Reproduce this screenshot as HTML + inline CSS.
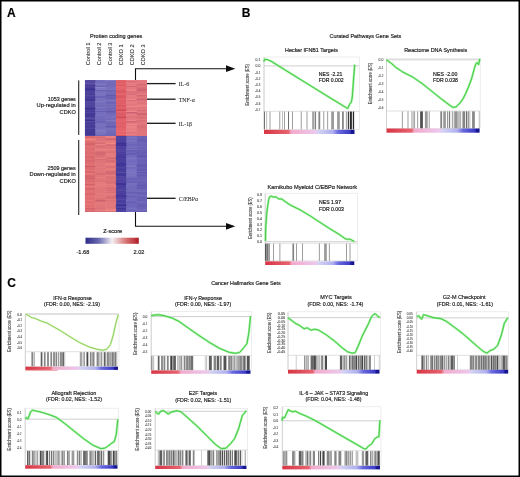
<!DOCTYPE html>
<html><head><meta charset="utf-8"><style>
html,body{margin:0;padding:0;background:#fff;overflow:hidden;}
svg{display:block;}
text{font-family:"Liberation Sans", sans-serif;stroke:#222;stroke-width:0.18px;} .t{stroke:#555;stroke-width:0.1px;}
</style></head><body>
<svg width="520" height="477" viewBox="0 0 520 477">
<defs><filter id="soft" filterUnits="userSpaceOnUse" x="0" y="0" width="520" height="477"><feGaussianBlur stdDeviation="0.3"/></filter></defs>
<g filter="url(#soft)">
<rect x="0" y="0" width="520" height="477" fill="#fff"/>
<defs><linearGradient id="zg" x1="0" x2="1" y1="0" y2="0"><stop offset="0" stop-color="#2c2a88"/><stop offset="0.25" stop-color="#6a6ab0"/><stop offset="0.5" stop-color="#f4f0f4"/><stop offset="0.75" stop-color="#d87878"/><stop offset="1" stop-color="#b01c24"/></linearGradient><linearGradient id="cb" x1="0" x2="1" y1="0" y2="0"><stop offset="0" stop-color="#d83444"/><stop offset="0.27" stop-color="#e6646f"/><stop offset="0.30" stop-color="#f2aacb"/><stop offset="0.57" stop-color="#ecc8ec"/><stop offset="0.60" stop-color="#d2d2f4"/><stop offset="0.76" stop-color="#b0b0ee"/><stop offset="0.82" stop-color="#6a6ade"/><stop offset="0.95" stop-color="#3a3ac6"/><stop offset="0.965" stop-color="#181890"/><stop offset="1" stop-color="#181890"/></linearGradient></defs>
<text x="7.00" y="17.00" font-size="12" text-anchor="start" fill="#000" font-weight="bold">A</text>
<text x="241.80" y="16.70" font-size="12" text-anchor="start" fill="#000" font-weight="bold">B</text>
<text x="7.20" y="287.00" font-size="12" text-anchor="start" fill="#000" font-weight="bold">C</text>
<defs><filter id="hb" x="-5%" y="-5%" width="110%" height="110%"><feGaussianBlur stdDeviation="0.35"/></filter><clipPath id="hc"><rect x="84.8" y="80" width="62.2" height="132"/></clipPath></defs>
<g clip-path="url(#hc)"><g filter="url(#hb)">
<rect x="84.80" y="80.00" width="10.67" height="56.00" fill="rgb(78,66,156)"/>
<rect x="95.17" y="80.00" width="10.67" height="56.00" fill="rgb(118,110,188)"/>
<rect x="105.53" y="80.00" width="10.67" height="56.00" fill="rgb(114,106,184)"/>
<rect x="115.90" y="80.00" width="10.67" height="56.00" fill="rgb(224,96,104)"/>
<rect x="126.27" y="80.00" width="10.67" height="56.00" fill="rgb(226,120,128)"/>
<rect x="136.63" y="80.00" width="10.67" height="56.00" fill="rgb(224,116,124)"/>
<rect x="84.80" y="80.00" width="10.67" height="1.20" fill="rgb(85,73,160)"/>
<rect x="105.53" y="80.00" width="10.67" height="1.20" fill="rgb(128,120,192)"/>
<rect x="115.90" y="80.00" width="10.67" height="1.20" fill="rgb(228,100,106)"/>
<rect x="126.27" y="80.00" width="10.67" height="1.20" fill="rgb(234,128,133)"/>
<rect x="136.63" y="80.00" width="10.67" height="1.20" fill="rgb(229,121,127)"/>
<rect x="84.80" y="81.20" width="10.67" height="1.00" fill="rgb(86,74,160)"/>
<rect x="105.53" y="81.20" width="10.67" height="1.00" fill="rgb(117,109,185)"/>
<rect x="126.27" y="81.20" width="10.67" height="1.00" fill="rgb(212,106,120)"/>
<rect x="136.63" y="81.20" width="10.67" height="1.00" fill="rgb(230,122,128)"/>
<rect x="84.80" y="82.20" width="10.67" height="0.80" fill="rgb(88,76,162)"/>
<rect x="95.17" y="82.20" width="10.67" height="0.80" fill="rgb(114,106,185)"/>
<rect x="84.80" y="83.00" width="10.67" height="1.00" fill="rgb(93,81,165)"/>
<rect x="95.17" y="83.00" width="10.67" height="1.00" fill="rgb(122,114,190)"/>
<rect x="115.90" y="83.00" width="10.67" height="1.00" fill="rgb(228,100,106)"/>
<rect x="126.27" y="83.00" width="10.67" height="1.00" fill="rgb(231,125,131)"/>
<rect x="136.63" y="83.00" width="10.67" height="1.00" fill="rgb(228,120,126)"/>
<rect x="84.80" y="84.00" width="10.67" height="1.00" fill="rgb(86,74,160)"/>
<rect x="95.17" y="84.00" width="10.67" height="1.00" fill="rgb(124,116,191)"/>
<rect x="115.90" y="84.00" width="10.67" height="1.00" fill="rgb(227,99,106)"/>
<rect x="136.63" y="84.00" width="10.67" height="1.00" fill="rgb(213,105,117)"/>
<rect x="84.80" y="85.00" width="10.67" height="1.00" fill="rgb(68,56,150)"/>
<rect x="115.90" y="85.00" width="10.67" height="1.00" fill="rgb(215,87,98)"/>
<rect x="126.27" y="85.00" width="10.67" height="1.00" fill="rgb(232,126,132)"/>
<rect x="136.63" y="85.00" width="10.67" height="1.00" fill="rgb(220,112,121)"/>
<rect x="84.80" y="86.00" width="10.67" height="1.00" fill="rgb(81,69,158)"/>
<rect x="95.17" y="86.00" width="10.67" height="1.00" fill="rgb(106,98,180)"/>
<rect x="115.90" y="86.00" width="10.67" height="1.00" fill="rgb(234,106,110)"/>
<rect x="126.27" y="86.00" width="10.67" height="1.00" fill="rgb(209,103,118)"/>
<rect x="84.80" y="87.00" width="10.67" height="1.50" fill="rgb(72,60,152)"/>
<rect x="95.17" y="87.00" width="10.67" height="1.50" fill="rgb(139,131,201)"/>
<rect x="105.53" y="87.00" width="10.67" height="1.50" fill="rgb(120,112,187)"/>
<rect x="115.90" y="87.00" width="10.67" height="1.50" fill="rgb(229,101,107)"/>
<rect x="136.63" y="87.00" width="10.67" height="1.50" fill="rgb(219,111,121)"/>
<rect x="84.80" y="88.50" width="10.67" height="1.50" fill="rgb(59,47,145)"/>
<rect x="95.17" y="88.50" width="10.67" height="1.50" fill="rgb(127,119,193)"/>
<rect x="105.53" y="88.50" width="10.67" height="1.50" fill="rgb(123,115,189)"/>
<rect x="115.90" y="88.50" width="10.67" height="1.50" fill="rgb(228,100,106)"/>
<rect x="126.27" y="88.50" width="10.67" height="1.50" fill="rgb(229,123,130)"/>
<rect x="136.63" y="88.50" width="10.67" height="1.50" fill="rgb(209,101,115)"/>
<rect x="84.80" y="90.00" width="10.67" height="1.20" fill="rgb(74,62,153)"/>
<rect x="95.17" y="90.00" width="10.67" height="1.20" fill="rgb(107,99,181)"/>
<rect x="105.53" y="90.00" width="10.67" height="1.20" fill="rgb(106,98,179)"/>
<rect x="115.90" y="90.00" width="10.67" height="1.20" fill="rgb(219,91,101)"/>
<rect x="126.27" y="90.00" width="10.67" height="1.20" fill="rgb(236,130,134)"/>
<rect x="136.63" y="90.00" width="10.67" height="1.20" fill="rgb(207,99,114)"/>
<rect x="115.90" y="91.20" width="10.67" height="1.50" fill="rgb(217,89,99)"/>
<rect x="126.27" y="91.20" width="10.67" height="1.50" fill="rgb(215,109,121)"/>
<rect x="136.63" y="91.20" width="10.67" height="1.50" fill="rgb(218,110,120)"/>
<rect x="95.17" y="92.70" width="10.67" height="1.50" fill="rgb(125,117,192)"/>
<rect x="126.27" y="92.70" width="10.67" height="1.50" fill="rgb(221,115,125)"/>
<rect x="84.80" y="94.20" width="10.67" height="0.80" fill="rgb(72,60,152)"/>
<rect x="105.53" y="94.20" width="10.67" height="0.80" fill="rgb(110,102,182)"/>
<rect x="115.90" y="94.20" width="10.67" height="0.80" fill="rgb(236,108,111)"/>
<rect x="126.27" y="94.20" width="10.67" height="0.80" fill="rgb(211,105,119)"/>
<rect x="136.63" y="94.20" width="10.67" height="0.80" fill="rgb(234,126,130)"/>
<rect x="84.80" y="95.00" width="10.67" height="1.50" fill="rgb(85,73,160)"/>
<rect x="95.17" y="95.00" width="10.67" height="1.50" fill="rgb(122,114,190)"/>
<rect x="105.53" y="95.00" width="10.67" height="1.50" fill="rgb(98,90,174)"/>
<rect x="115.90" y="95.00" width="10.67" height="1.50" fill="rgb(218,90,100)"/>
<rect x="126.27" y="95.00" width="10.67" height="1.50" fill="rgb(232,126,132)"/>
<rect x="136.63" y="95.00" width="10.67" height="1.50" fill="rgb(209,101,115)"/>
<rect x="84.80" y="96.50" width="10.67" height="1.20" fill="rgb(71,59,152)"/>
<rect x="95.17" y="96.50" width="10.67" height="1.20" fill="rgb(95,87,174)"/>
<rect x="105.53" y="96.50" width="10.67" height="1.20" fill="rgb(110,102,182)"/>
<rect x="115.90" y="96.50" width="10.67" height="1.20" fill="rgb(216,88,99)"/>
<rect x="136.63" y="96.50" width="10.67" height="1.20" fill="rgb(227,119,125)"/>
<rect x="95.17" y="97.70" width="10.67" height="1.00" fill="rgb(123,115,191)"/>
<rect x="105.53" y="97.70" width="10.67" height="1.00" fill="rgb(103,95,177)"/>
<rect x="84.80" y="98.70" width="10.67" height="1.50" fill="rgb(67,55,149)"/>
<rect x="115.90" y="98.70" width="10.67" height="1.50" fill="rgb(227,99,106)"/>
<rect x="126.27" y="98.70" width="10.67" height="1.50" fill="rgb(238,132,135)"/>
<rect x="136.63" y="98.70" width="10.67" height="1.50" fill="rgb(208,100,114)"/>
<rect x="84.80" y="100.20" width="10.67" height="0.80" fill="rgb(62,50,146)"/>
<rect x="95.17" y="100.20" width="10.67" height="0.80" fill="rgb(122,114,190)"/>
<rect x="105.53" y="100.20" width="10.67" height="0.80" fill="rgb(125,117,190)"/>
<rect x="115.90" y="100.20" width="10.67" height="0.80" fill="rgb(220,92,101)"/>
<rect x="126.27" y="100.20" width="10.67" height="0.80" fill="rgb(218,112,123)"/>
<rect x="84.80" y="101.00" width="10.67" height="1.50" fill="rgb(87,75,161)"/>
<rect x="95.17" y="101.00" width="10.67" height="1.50" fill="rgb(124,116,192)"/>
<rect x="136.63" y="101.00" width="10.67" height="1.50" fill="rgb(228,120,126)"/>
<rect x="105.53" y="102.50" width="10.67" height="1.20" fill="rgb(104,96,178)"/>
<rect x="115.90" y="102.50" width="10.67" height="1.20" fill="rgb(219,91,101)"/>
<rect x="126.27" y="102.50" width="10.67" height="1.20" fill="rgb(236,130,134)"/>
<rect x="136.63" y="102.50" width="10.67" height="1.20" fill="rgb(220,112,121)"/>
<rect x="84.80" y="103.70" width="10.67" height="0.80" fill="rgb(85,73,160)"/>
<rect x="95.17" y="103.70" width="10.67" height="0.80" fill="rgb(110,102,183)"/>
<rect x="105.53" y="103.70" width="10.67" height="0.80" fill="rgb(117,109,186)"/>
<rect x="115.90" y="103.70" width="10.67" height="0.80" fill="rgb(228,100,106)"/>
<rect x="126.27" y="103.70" width="10.67" height="0.80" fill="rgb(221,115,125)"/>
<rect x="136.63" y="103.70" width="10.67" height="0.80" fill="rgb(230,122,127)"/>
<rect x="84.80" y="104.50" width="10.67" height="0.80" fill="rgb(84,72,160)"/>
<rect x="95.17" y="104.50" width="10.67" height="0.80" fill="rgb(124,116,191)"/>
<rect x="105.53" y="104.50" width="10.67" height="0.80" fill="rgb(123,115,189)"/>
<rect x="136.63" y="104.50" width="10.67" height="0.80" fill="rgb(228,120,126)"/>
<rect x="95.17" y="105.30" width="10.67" height="1.20" fill="rgb(108,100,182)"/>
<rect x="105.53" y="105.30" width="10.67" height="1.20" fill="rgb(110,102,181)"/>
<rect x="115.90" y="105.30" width="10.67" height="1.20" fill="rgb(214,86,98)"/>
<rect x="126.27" y="105.30" width="10.67" height="1.20" fill="rgb(231,125,131)"/>
<rect x="136.63" y="105.30" width="10.67" height="1.20" fill="rgb(242,134,135)"/>
<rect x="84.80" y="106.50" width="10.67" height="1.20" fill="rgb(84,72,159)"/>
<rect x="95.17" y="106.50" width="10.67" height="1.20" fill="rgb(125,117,192)"/>
<rect x="105.53" y="106.50" width="10.67" height="1.20" fill="rgb(123,115,189)"/>
<rect x="126.27" y="106.50" width="10.67" height="1.20" fill="rgb(241,135,137)"/>
<rect x="84.80" y="107.70" width="10.67" height="1.20" fill="rgb(60,48,145)"/>
<rect x="105.53" y="107.70" width="10.67" height="1.20" fill="rgb(110,102,181)"/>
<rect x="115.90" y="107.70" width="10.67" height="1.20" fill="rgb(228,100,106)"/>
<rect x="126.27" y="107.70" width="10.67" height="1.20" fill="rgb(216,110,122)"/>
<rect x="84.80" y="108.90" width="10.67" height="1.00" fill="rgb(67,55,149)"/>
<rect x="95.17" y="108.90" width="10.67" height="1.00" fill="rgb(108,100,182)"/>
<rect x="115.90" y="108.90" width="10.67" height="1.00" fill="rgb(218,90,100)"/>
<rect x="136.63" y="108.90" width="10.67" height="1.00" fill="rgb(232,124,128)"/>
<rect x="95.17" y="109.90" width="10.67" height="1.00" fill="rgb(126,118,193)"/>
<rect x="115.90" y="109.90" width="10.67" height="1.00" fill="rgb(199,71,89)"/>
<rect x="136.63" y="109.90" width="10.67" height="1.00" fill="rgb(215,107,118)"/>
<rect x="84.80" y="110.90" width="10.67" height="1.00" fill="rgb(70,58,151)"/>
<rect x="95.17" y="110.90" width="10.67" height="1.00" fill="rgb(99,91,176)"/>
<rect x="105.53" y="110.90" width="10.67" height="1.00" fill="rgb(96,88,173)"/>
<rect x="115.90" y="110.90" width="10.67" height="1.00" fill="rgb(230,102,107)"/>
<rect x="126.27" y="110.90" width="10.67" height="1.00" fill="rgb(245,139,139)"/>
<rect x="84.80" y="111.90" width="10.67" height="1.20" fill="rgb(81,69,157)"/>
<rect x="105.53" y="111.90" width="10.67" height="1.20" fill="rgb(106,98,179)"/>
<rect x="126.27" y="111.90" width="10.67" height="1.20" fill="rgb(202,96,114)"/>
<rect x="84.80" y="113.10" width="10.67" height="0.80" fill="rgb(66,54,149)"/>
<rect x="115.90" y="113.10" width="10.67" height="0.80" fill="rgb(220,92,102)"/>
<rect x="126.27" y="113.10" width="10.67" height="0.80" fill="rgb(216,110,122)"/>
<rect x="136.63" y="113.10" width="10.67" height="0.80" fill="rgb(209,101,115)"/>
<rect x="84.80" y="113.90" width="10.67" height="1.00" fill="rgb(73,61,153)"/>
<rect x="115.90" y="113.90" width="10.67" height="1.00" fill="rgb(217,89,99)"/>
<rect x="126.27" y="113.90" width="10.67" height="1.00" fill="rgb(232,126,132)"/>
<rect x="136.63" y="113.90" width="10.67" height="1.00" fill="rgb(203,95,111)"/>
<rect x="84.80" y="114.90" width="10.67" height="1.50" fill="rgb(65,53,148)"/>
<rect x="95.17" y="114.90" width="10.67" height="1.50" fill="rgb(121,113,189)"/>
<rect x="105.53" y="114.90" width="10.67" height="1.50" fill="rgb(118,110,186)"/>
<rect x="95.17" y="116.40" width="10.67" height="1.50" fill="rgb(113,105,185)"/>
<rect x="105.53" y="116.40" width="10.67" height="1.50" fill="rgb(124,116,190)"/>
<rect x="115.90" y="116.40" width="10.67" height="1.50" fill="rgb(204,76,92)"/>
<rect x="126.27" y="116.40" width="10.67" height="1.50" fill="rgb(221,115,125)"/>
<rect x="136.63" y="116.40" width="10.67" height="1.50" fill="rgb(217,109,120)"/>
<rect x="84.80" y="117.90" width="10.67" height="1.00" fill="rgb(92,80,164)"/>
<rect x="115.90" y="117.90" width="10.67" height="1.00" fill="rgb(220,92,101)"/>
<rect x="136.63" y="117.90" width="10.67" height="1.00" fill="rgb(219,111,121)"/>
<rect x="95.17" y="118.90" width="10.67" height="1.00" fill="rgb(113,105,185)"/>
<rect x="115.90" y="118.90" width="10.67" height="1.00" fill="rgb(230,102,107)"/>
<rect x="136.63" y="118.90" width="10.67" height="1.00" fill="rgb(234,126,130)"/>
<rect x="84.80" y="119.90" width="10.67" height="1.20" fill="rgb(63,51,147)"/>
<rect x="95.17" y="119.90" width="10.67" height="1.20" fill="rgb(113,105,185)"/>
<rect x="105.53" y="119.90" width="10.67" height="1.20" fill="rgb(126,118,191)"/>
<rect x="115.90" y="119.90" width="10.67" height="1.20" fill="rgb(228,100,106)"/>
<rect x="126.27" y="119.90" width="10.67" height="1.20" fill="rgb(235,129,133)"/>
<rect x="136.63" y="119.90" width="10.67" height="1.20" fill="rgb(216,108,119)"/>
<rect x="84.80" y="121.10" width="10.67" height="1.50" fill="rgb(85,73,160)"/>
<rect x="95.17" y="121.10" width="10.67" height="1.50" fill="rgb(103,95,179)"/>
<rect x="105.53" y="121.10" width="10.67" height="1.50" fill="rgb(117,109,185)"/>
<rect x="115.90" y="121.10" width="10.67" height="1.50" fill="rgb(227,99,106)"/>
<rect x="126.27" y="121.10" width="10.67" height="1.50" fill="rgb(209,103,118)"/>
<rect x="84.80" y="122.60" width="10.67" height="1.00" fill="rgb(67,55,149)"/>
<rect x="95.17" y="122.60" width="10.67" height="1.00" fill="rgb(109,101,182)"/>
<rect x="115.90" y="122.60" width="10.67" height="1.00" fill="rgb(227,99,106)"/>
<rect x="84.80" y="123.60" width="10.67" height="0.80" fill="rgb(73,61,153)"/>
<rect x="95.17" y="123.60" width="10.67" height="0.80" fill="rgb(126,118,193)"/>
<rect x="105.53" y="123.60" width="10.67" height="0.80" fill="rgb(100,92,176)"/>
<rect x="115.90" y="123.60" width="10.67" height="0.80" fill="rgb(219,91,101)"/>
<rect x="126.27" y="123.60" width="10.67" height="0.80" fill="rgb(234,128,132)"/>
<rect x="136.63" y="123.60" width="10.67" height="0.80" fill="rgb(230,122,127)"/>
<rect x="105.53" y="124.40" width="10.67" height="1.00" fill="rgb(121,113,188)"/>
<rect x="115.90" y="124.40" width="10.67" height="1.00" fill="rgb(229,101,107)"/>
<rect x="126.27" y="124.40" width="10.67" height="1.00" fill="rgb(242,136,138)"/>
<rect x="84.80" y="125.40" width="10.67" height="0.80" fill="rgb(67,55,149)"/>
<rect x="95.17" y="125.40" width="10.67" height="0.80" fill="rgb(121,113,190)"/>
<rect x="105.53" y="125.40" width="10.67" height="0.80" fill="rgb(104,96,178)"/>
<rect x="126.27" y="125.40" width="10.67" height="0.80" fill="rgb(222,116,126)"/>
<rect x="136.63" y="125.40" width="10.67" height="0.80" fill="rgb(215,107,119)"/>
<rect x="84.80" y="126.20" width="10.67" height="1.50" fill="rgb(71,59,152)"/>
<rect x="105.53" y="126.20" width="10.67" height="1.50" fill="rgb(97,89,174)"/>
<rect x="126.27" y="126.20" width="10.67" height="1.50" fill="rgb(242,136,137)"/>
<rect x="136.63" y="126.20" width="10.67" height="1.50" fill="rgb(216,108,119)"/>
<rect x="95.17" y="127.70" width="10.67" height="1.00" fill="rgb(114,106,185)"/>
<rect x="105.53" y="127.70" width="10.67" height="1.00" fill="rgb(120,112,187)"/>
<rect x="115.90" y="127.70" width="10.67" height="1.00" fill="rgb(229,101,107)"/>
<rect x="126.27" y="127.70" width="10.67" height="1.00" fill="rgb(231,125,131)"/>
<rect x="95.17" y="128.70" width="10.67" height="0.80" fill="rgb(124,116,191)"/>
<rect x="105.53" y="128.70" width="10.67" height="0.80" fill="rgb(123,115,189)"/>
<rect x="115.90" y="128.70" width="10.67" height="0.80" fill="rgb(233,105,109)"/>
<rect x="126.27" y="128.70" width="10.67" height="0.80" fill="rgb(236,130,134)"/>
<rect x="136.63" y="128.70" width="10.67" height="0.80" fill="rgb(219,111,121)"/>
<rect x="84.80" y="129.50" width="10.67" height="1.20" fill="rgb(88,76,162)"/>
<rect x="95.17" y="129.50" width="10.67" height="1.20" fill="rgb(130,122,195)"/>
<rect x="105.53" y="129.50" width="10.67" height="1.20" fill="rgb(119,111,187)"/>
<rect x="126.27" y="129.50" width="10.67" height="1.20" fill="rgb(233,127,132)"/>
<rect x="84.80" y="130.70" width="10.67" height="1.50" fill="rgb(84,72,159)"/>
<rect x="95.17" y="130.70" width="10.67" height="1.50" fill="rgb(128,120,194)"/>
<rect x="115.90" y="130.70" width="10.67" height="1.50" fill="rgb(236,108,111)"/>
<rect x="126.27" y="130.70" width="10.67" height="1.50" fill="rgb(234,128,132)"/>
<rect x="95.17" y="132.20" width="10.67" height="1.50" fill="rgb(124,116,191)"/>
<rect x="126.27" y="132.20" width="10.67" height="1.50" fill="rgb(217,111,123)"/>
<rect x="84.80" y="133.70" width="10.67" height="0.80" fill="rgb(70,58,151)"/>
<rect x="95.17" y="133.70" width="10.67" height="0.80" fill="rgb(124,116,191)"/>
<rect x="105.53" y="133.70" width="10.67" height="0.80" fill="rgb(108,100,180)"/>
<rect x="115.90" y="133.70" width="10.67" height="0.80" fill="rgb(243,115,115)"/>
<rect x="126.27" y="133.70" width="10.67" height="0.80" fill="rgb(239,133,136)"/>
<rect x="136.63" y="133.70" width="10.67" height="0.80" fill="rgb(235,127,130)"/>
<rect x="84.80" y="134.50" width="10.67" height="1.00" fill="rgb(81,69,158)"/>
<rect x="136.63" y="134.50" width="10.67" height="1.00" fill="rgb(217,109,120)"/>
<rect x="84.80" y="135.50" width="10.67" height="0.50" fill="rgb(84,72,159)"/>
<rect x="95.17" y="135.50" width="10.67" height="0.50" fill="rgb(103,95,179)"/>
<rect x="105.53" y="135.50" width="10.67" height="0.50" fill="rgb(105,97,178)"/>
<rect x="115.90" y="135.50" width="10.67" height="0.50" fill="rgb(206,78,93)"/>
<rect x="126.27" y="135.50" width="10.67" height="0.50" fill="rgb(217,111,123)"/>
<rect x="136.63" y="135.50" width="10.67" height="0.50" fill="rgb(229,121,127)"/>
<rect x="84.80" y="136.00" width="10.67" height="76.00" fill="rgb(220,108,112)"/>
<rect x="95.17" y="136.00" width="10.67" height="76.00" fill="rgb(224,118,122)"/>
<rect x="105.53" y="136.00" width="10.67" height="76.00" fill="rgb(224,118,122)"/>
<rect x="115.90" y="136.00" width="10.67" height="76.00" fill="rgb(74,62,158)"/>
<rect x="126.27" y="136.00" width="10.67" height="76.00" fill="rgb(112,106,188)"/>
<rect x="136.63" y="136.00" width="10.67" height="76.00" fill="rgb(104,96,180)"/>
<rect x="95.17" y="136.00" width="10.67" height="1.50" fill="rgb(220,114,120)"/>
<rect x="105.53" y="136.00" width="10.67" height="1.50" fill="rgb(235,129,128)"/>
<rect x="115.90" y="136.00" width="10.67" height="1.50" fill="rgb(78,66,160)"/>
<rect x="84.80" y="137.50" width="10.67" height="0.80" fill="rgb(210,98,106)"/>
<rect x="95.17" y="137.50" width="10.67" height="0.80" fill="rgb(213,107,115)"/>
<rect x="105.53" y="137.50" width="10.67" height="0.80" fill="rgb(237,131,130)"/>
<rect x="115.90" y="137.50" width="10.67" height="0.80" fill="rgb(81,69,162)"/>
<rect x="126.27" y="137.50" width="10.67" height="0.80" fill="rgb(126,120,196)"/>
<rect x="136.63" y="137.50" width="10.67" height="0.80" fill="rgb(110,102,183)"/>
<rect x="84.80" y="138.30" width="10.67" height="1.50" fill="rgb(245,133,127)"/>
<rect x="105.53" y="138.30" width="10.67" height="1.50" fill="rgb(208,102,112)"/>
<rect x="115.90" y="138.30" width="10.67" height="1.50" fill="rgb(82,70,163)"/>
<rect x="84.80" y="139.80" width="10.67" height="1.00" fill="rgb(239,127,123)"/>
<rect x="95.17" y="139.80" width="10.67" height="1.00" fill="rgb(215,109,117)"/>
<rect x="115.90" y="139.80" width="10.67" height="1.00" fill="rgb(79,67,161)"/>
<rect x="126.27" y="139.80" width="10.67" height="1.00" fill="rgb(122,116,194)"/>
<rect x="136.63" y="139.80" width="10.67" height="1.00" fill="rgb(99,91,177)"/>
<rect x="95.17" y="140.80" width="10.67" height="1.00" fill="rgb(233,127,127)"/>
<rect x="105.53" y="140.80" width="10.67" height="1.00" fill="rgb(227,121,123)"/>
<rect x="115.90" y="140.80" width="10.67" height="1.00" fill="rgb(80,68,161)"/>
<rect x="126.27" y="140.80" width="10.67" height="1.00" fill="rgb(118,112,191)"/>
<rect x="84.80" y="141.80" width="10.67" height="0.80" fill="rgb(229,117,117)"/>
<rect x="105.53" y="141.80" width="10.67" height="0.80" fill="rgb(233,127,127)"/>
<rect x="136.63" y="141.80" width="10.67" height="0.80" fill="rgb(112,104,185)"/>
<rect x="84.80" y="142.60" width="10.67" height="1.50" fill="rgb(214,102,108)"/>
<rect x="95.17" y="142.60" width="10.67" height="1.50" fill="rgb(215,109,116)"/>
<rect x="105.53" y="142.60" width="10.67" height="1.50" fill="rgb(240,134,131)"/>
<rect x="115.90" y="142.60" width="10.67" height="1.50" fill="rgb(60,48,149)"/>
<rect x="136.63" y="142.60" width="10.67" height="1.50" fill="rgb(109,101,183)"/>
<rect x="84.80" y="144.10" width="10.67" height="1.00" fill="rgb(211,99,107)"/>
<rect x="95.17" y="144.10" width="10.67" height="1.00" fill="rgb(236,130,129)"/>
<rect x="105.53" y="144.10" width="10.67" height="1.00" fill="rgb(220,114,120)"/>
<rect x="115.90" y="144.10" width="10.67" height="1.00" fill="rgb(63,51,151)"/>
<rect x="126.27" y="144.10" width="10.67" height="1.00" fill="rgb(105,99,184)"/>
<rect x="136.63" y="144.10" width="10.67" height="1.00" fill="rgb(108,100,182)"/>
<rect x="105.53" y="145.10" width="10.67" height="0.80" fill="rgb(212,106,115)"/>
<rect x="115.90" y="145.10" width="10.67" height="0.80" fill="rgb(62,50,150)"/>
<rect x="84.80" y="145.90" width="10.67" height="1.50" fill="rgb(228,116,116)"/>
<rect x="95.17" y="145.90" width="10.67" height="1.50" fill="rgb(215,109,116)"/>
<rect x="115.90" y="145.90" width="10.67" height="1.50" fill="rgb(79,67,161)"/>
<rect x="136.63" y="145.90" width="10.67" height="1.50" fill="rgb(112,104,185)"/>
<rect x="105.53" y="147.40" width="10.67" height="1.00" fill="rgb(219,113,119)"/>
<rect x="115.90" y="147.40" width="10.67" height="1.00" fill="rgb(79,67,161)"/>
<rect x="126.27" y="147.40" width="10.67" height="1.00" fill="rgb(119,113,192)"/>
<rect x="84.80" y="148.40" width="10.67" height="0.80" fill="rgb(226,114,116)"/>
<rect x="126.27" y="148.40" width="10.67" height="0.80" fill="rgb(105,99,183)"/>
<rect x="136.63" y="148.40" width="10.67" height="0.80" fill="rgb(110,102,183)"/>
<rect x="95.17" y="149.20" width="10.67" height="1.00" fill="rgb(237,131,130)"/>
<rect x="105.53" y="149.20" width="10.67" height="1.00" fill="rgb(236,130,129)"/>
<rect x="115.90" y="149.20" width="10.67" height="1.00" fill="rgb(81,69,162)"/>
<rect x="126.27" y="149.20" width="10.67" height="1.00" fill="rgb(118,112,191)"/>
<rect x="136.63" y="149.20" width="10.67" height="1.00" fill="rgb(112,104,185)"/>
<rect x="84.80" y="150.20" width="10.67" height="1.50" fill="rgb(226,114,116)"/>
<rect x="115.90" y="150.20" width="10.67" height="1.50" fill="rgb(84,72,164)"/>
<rect x="126.27" y="150.20" width="10.67" height="1.50" fill="rgb(98,92,180)"/>
<rect x="95.17" y="151.70" width="10.67" height="1.50" fill="rgb(211,105,114)"/>
<rect x="105.53" y="151.70" width="10.67" height="1.50" fill="rgb(217,111,118)"/>
<rect x="126.27" y="151.70" width="10.67" height="1.50" fill="rgb(108,102,186)"/>
<rect x="136.63" y="151.70" width="10.67" height="1.50" fill="rgb(100,92,178)"/>
<rect x="95.17" y="153.20" width="10.67" height="1.50" fill="rgb(209,103,113)"/>
<rect x="105.53" y="153.20" width="10.67" height="1.50" fill="rgb(230,124,125)"/>
<rect x="115.90" y="153.20" width="10.67" height="1.50" fill="rgb(81,69,162)"/>
<rect x="126.27" y="153.20" width="10.67" height="1.50" fill="rgb(96,90,178)"/>
<rect x="84.80" y="154.70" width="10.67" height="0.80" fill="rgb(224,112,114)"/>
<rect x="95.17" y="154.70" width="10.67" height="0.80" fill="rgb(214,108,116)"/>
<rect x="105.53" y="154.70" width="10.67" height="0.80" fill="rgb(233,127,127)"/>
<rect x="115.90" y="154.70" width="10.67" height="0.80" fill="rgb(66,54,153)"/>
<rect x="136.63" y="154.70" width="10.67" height="0.80" fill="rgb(98,90,176)"/>
<rect x="84.80" y="155.50" width="10.67" height="0.80" fill="rgb(230,118,118)"/>
<rect x="105.53" y="155.50" width="10.67" height="0.80" fill="rgb(231,125,126)"/>
<rect x="84.80" y="156.30" width="10.67" height="0.80" fill="rgb(211,99,106)"/>
<rect x="95.17" y="156.30" width="10.67" height="0.80" fill="rgb(215,109,116)"/>
<rect x="126.27" y="156.30" width="10.67" height="0.80" fill="rgb(115,109,190)"/>
<rect x="136.63" y="156.30" width="10.67" height="0.80" fill="rgb(91,83,172)"/>
<rect x="115.90" y="157.10" width="10.67" height="0.80" fill="rgb(67,55,154)"/>
<rect x="126.27" y="157.10" width="10.67" height="0.80" fill="rgb(117,111,191)"/>
<rect x="95.17" y="157.90" width="10.67" height="1.00" fill="rgb(235,129,128)"/>
<rect x="105.53" y="157.90" width="10.67" height="1.00" fill="rgb(209,103,113)"/>
<rect x="115.90" y="157.90" width="10.67" height="1.00" fill="rgb(77,65,160)"/>
<rect x="126.27" y="157.90" width="10.67" height="1.00" fill="rgb(127,121,197)"/>
<rect x="136.63" y="157.90" width="10.67" height="1.00" fill="rgb(112,104,184)"/>
<rect x="95.17" y="158.90" width="10.67" height="1.20" fill="rgb(212,106,115)"/>
<rect x="126.27" y="158.90" width="10.67" height="1.20" fill="rgb(115,109,190)"/>
<rect x="136.63" y="158.90" width="10.67" height="1.20" fill="rgb(108,100,182)"/>
<rect x="84.80" y="160.10" width="10.67" height="1.20" fill="rgb(216,104,110)"/>
<rect x="105.53" y="160.10" width="10.67" height="1.20" fill="rgb(214,108,116)"/>
<rect x="126.27" y="160.10" width="10.67" height="1.20" fill="rgb(115,109,190)"/>
<rect x="95.17" y="161.30" width="10.67" height="1.00" fill="rgb(218,112,118)"/>
<rect x="105.53" y="161.30" width="10.67" height="1.00" fill="rgb(215,109,116)"/>
<rect x="126.27" y="161.30" width="10.67" height="1.00" fill="rgb(108,102,185)"/>
<rect x="95.17" y="162.30" width="10.67" height="1.00" fill="rgb(227,121,123)"/>
<rect x="105.53" y="162.30" width="10.67" height="1.00" fill="rgb(217,111,118)"/>
<rect x="126.27" y="162.30" width="10.67" height="1.00" fill="rgb(120,114,193)"/>
<rect x="136.63" y="162.30" width="10.67" height="1.00" fill="rgb(108,100,182)"/>
<rect x="84.80" y="163.30" width="10.67" height="1.50" fill="rgb(227,115,116)"/>
<rect x="105.53" y="163.30" width="10.67" height="1.50" fill="rgb(239,133,131)"/>
<rect x="115.90" y="163.30" width="10.67" height="1.50" fill="rgb(64,52,152)"/>
<rect x="126.27" y="163.30" width="10.67" height="1.50" fill="rgb(115,109,189)"/>
<rect x="84.80" y="164.80" width="10.67" height="1.20" fill="rgb(224,112,114)"/>
<rect x="105.53" y="164.80" width="10.67" height="1.20" fill="rgb(228,122,124)"/>
<rect x="115.90" y="164.80" width="10.67" height="1.20" fill="rgb(65,53,152)"/>
<rect x="126.27" y="164.80" width="10.67" height="1.20" fill="rgb(121,115,193)"/>
<rect x="136.63" y="164.80" width="10.67" height="1.20" fill="rgb(95,87,175)"/>
<rect x="84.80" y="166.00" width="10.67" height="1.00" fill="rgb(203,91,102)"/>
<rect x="105.53" y="166.00" width="10.67" height="1.00" fill="rgb(220,114,119)"/>
<rect x="126.27" y="166.00" width="10.67" height="1.00" fill="rgb(123,117,194)"/>
<rect x="136.63" y="166.00" width="10.67" height="1.00" fill="rgb(100,92,177)"/>
<rect x="95.17" y="167.00" width="10.67" height="1.50" fill="rgb(228,122,124)"/>
<rect x="105.53" y="167.00" width="10.67" height="1.50" fill="rgb(220,114,119)"/>
<rect x="115.90" y="167.00" width="10.67" height="1.50" fill="rgb(79,67,161)"/>
<rect x="95.17" y="168.50" width="10.67" height="1.20" fill="rgb(220,114,119)"/>
<rect x="105.53" y="168.50" width="10.67" height="1.20" fill="rgb(235,129,128)"/>
<rect x="115.90" y="168.50" width="10.67" height="1.20" fill="rgb(68,56,154)"/>
<rect x="126.27" y="168.50" width="10.67" height="1.20" fill="rgb(117,111,191)"/>
<rect x="136.63" y="168.50" width="10.67" height="1.20" fill="rgb(100,92,177)"/>
<rect x="84.80" y="169.70" width="10.67" height="1.20" fill="rgb(227,115,116)"/>
<rect x="95.17" y="169.70" width="10.67" height="1.20" fill="rgb(227,121,123)"/>
<rect x="126.27" y="169.70" width="10.67" height="1.20" fill="rgb(123,117,195)"/>
<rect x="136.63" y="169.70" width="10.67" height="1.20" fill="rgb(97,89,176)"/>
<rect x="105.53" y="170.90" width="10.67" height="0.80" fill="rgb(218,112,118)"/>
<rect x="115.90" y="170.90" width="10.67" height="0.80" fill="rgb(64,52,152)"/>
<rect x="126.27" y="170.90" width="10.67" height="0.80" fill="rgb(124,118,195)"/>
<rect x="136.63" y="170.90" width="10.67" height="0.80" fill="rgb(121,113,190)"/>
<rect x="84.80" y="171.70" width="10.67" height="1.50" fill="rgb(214,102,108)"/>
<rect x="105.53" y="171.70" width="10.67" height="1.50" fill="rgb(210,104,113)"/>
<rect x="115.90" y="171.70" width="10.67" height="1.50" fill="rgb(88,76,166)"/>
<rect x="126.27" y="171.70" width="10.67" height="1.50" fill="rgb(122,116,194)"/>
<rect x="136.63" y="171.70" width="10.67" height="1.50" fill="rgb(94,86,174)"/>
<rect x="84.80" y="173.20" width="10.67" height="1.50" fill="rgb(236,124,121)"/>
<rect x="95.17" y="173.20" width="10.67" height="1.50" fill="rgb(214,108,116)"/>
<rect x="105.53" y="173.20" width="10.67" height="1.50" fill="rgb(211,105,114)"/>
<rect x="115.90" y="173.20" width="10.67" height="1.50" fill="rgb(70,58,155)"/>
<rect x="126.27" y="173.20" width="10.67" height="1.50" fill="rgb(124,118,195)"/>
<rect x="136.63" y="173.20" width="10.67" height="1.50" fill="rgb(107,99,182)"/>
<rect x="84.80" y="174.70" width="10.67" height="1.50" fill="rgb(216,104,110)"/>
<rect x="105.53" y="174.70" width="10.67" height="1.50" fill="rgb(230,124,125)"/>
<rect x="115.90" y="174.70" width="10.67" height="1.50" fill="rgb(67,55,153)"/>
<rect x="126.27" y="174.70" width="10.67" height="1.50" fill="rgb(120,114,193)"/>
<rect x="136.63" y="174.70" width="10.67" height="1.50" fill="rgb(98,90,176)"/>
<rect x="84.80" y="176.20" width="10.67" height="1.00" fill="rgb(212,100,107)"/>
<rect x="105.53" y="176.20" width="10.67" height="1.00" fill="rgb(220,114,119)"/>
<rect x="115.90" y="176.20" width="10.67" height="1.00" fill="rgb(86,74,165)"/>
<rect x="126.27" y="176.20" width="10.67" height="1.00" fill="rgb(118,112,191)"/>
<rect x="84.80" y="177.20" width="10.67" height="1.00" fill="rgb(216,104,110)"/>
<rect x="95.17" y="177.20" width="10.67" height="1.00" fill="rgb(233,127,127)"/>
<rect x="105.53" y="177.20" width="10.67" height="1.00" fill="rgb(220,114,119)"/>
<rect x="136.63" y="177.20" width="10.67" height="1.00" fill="rgb(108,100,182)"/>
<rect x="84.80" y="178.20" width="10.67" height="1.50" fill="rgb(211,99,106)"/>
<rect x="105.53" y="178.20" width="10.67" height="1.50" fill="rgb(217,111,117)"/>
<rect x="115.90" y="178.20" width="10.67" height="1.50" fill="rgb(85,73,165)"/>
<rect x="126.27" y="178.20" width="10.67" height="1.50" fill="rgb(102,96,182)"/>
<rect x="136.63" y="178.20" width="10.67" height="1.50" fill="rgb(108,100,182)"/>
<rect x="84.80" y="179.70" width="10.67" height="1.00" fill="rgb(226,114,115)"/>
<rect x="95.17" y="179.70" width="10.67" height="1.00" fill="rgb(227,121,124)"/>
<rect x="105.53" y="179.70" width="10.67" height="1.00" fill="rgb(228,122,124)"/>
<rect x="115.90" y="179.70" width="10.67" height="1.00" fill="rgb(77,65,159)"/>
<rect x="136.63" y="179.70" width="10.67" height="1.00" fill="rgb(114,106,186)"/>
<rect x="95.17" y="180.70" width="10.67" height="0.80" fill="rgb(215,109,117)"/>
<rect x="105.53" y="180.70" width="10.67" height="0.80" fill="rgb(215,109,116)"/>
<rect x="115.90" y="180.70" width="10.67" height="0.80" fill="rgb(79,67,161)"/>
<rect x="126.27" y="180.70" width="10.67" height="0.80" fill="rgb(106,100,184)"/>
<rect x="136.63" y="180.70" width="10.67" height="0.80" fill="rgb(109,101,183)"/>
<rect x="84.80" y="181.50" width="10.67" height="0.80" fill="rgb(209,97,105)"/>
<rect x="105.53" y="181.50" width="10.67" height="0.80" fill="rgb(216,110,117)"/>
<rect x="115.90" y="181.50" width="10.67" height="0.80" fill="rgb(83,71,163)"/>
<rect x="126.27" y="181.50" width="10.67" height="0.80" fill="rgb(98,92,179)"/>
<rect x="84.80" y="182.30" width="10.67" height="1.00" fill="rgb(234,122,120)"/>
<rect x="95.17" y="182.30" width="10.67" height="1.00" fill="rgb(233,127,127)"/>
<rect x="105.53" y="182.30" width="10.67" height="1.00" fill="rgb(215,109,116)"/>
<rect x="115.90" y="182.30" width="10.67" height="1.00" fill="rgb(81,69,162)"/>
<rect x="126.27" y="182.30" width="10.67" height="1.00" fill="rgb(105,99,184)"/>
<rect x="84.80" y="183.30" width="10.67" height="0.80" fill="rgb(225,113,115)"/>
<rect x="95.17" y="183.30" width="10.67" height="0.80" fill="rgb(230,124,125)"/>
<rect x="115.90" y="183.30" width="10.67" height="0.80" fill="rgb(59,47,149)"/>
<rect x="126.27" y="183.30" width="10.67" height="0.80" fill="rgb(121,115,193)"/>
<rect x="84.80" y="184.10" width="10.67" height="0.80" fill="rgb(205,93,103)"/>
<rect x="95.17" y="184.10" width="10.67" height="0.80" fill="rgb(235,129,128)"/>
<rect x="105.53" y="184.10" width="10.67" height="0.80" fill="rgb(231,125,126)"/>
<rect x="115.90" y="184.10" width="10.67" height="0.80" fill="rgb(60,48,149)"/>
<rect x="126.27" y="184.10" width="10.67" height="0.80" fill="rgb(117,111,191)"/>
<rect x="95.17" y="184.90" width="10.67" height="0.80" fill="rgb(228,122,124)"/>
<rect x="105.53" y="184.90" width="10.67" height="0.80" fill="rgb(227,121,124)"/>
<rect x="126.27" y="184.90" width="10.67" height="0.80" fill="rgb(117,111,191)"/>
<rect x="136.63" y="184.90" width="10.67" height="0.80" fill="rgb(92,84,173)"/>
<rect x="84.80" y="185.70" width="10.67" height="1.50" fill="rgb(231,119,119)"/>
<rect x="95.17" y="185.70" width="10.67" height="1.50" fill="rgb(231,125,126)"/>
<rect x="105.53" y="185.70" width="10.67" height="1.50" fill="rgb(228,122,124)"/>
<rect x="84.80" y="187.20" width="10.67" height="1.20" fill="rgb(230,118,118)"/>
<rect x="105.53" y="187.20" width="10.67" height="1.20" fill="rgb(215,109,116)"/>
<rect x="136.63" y="187.20" width="10.67" height="1.20" fill="rgb(100,92,177)"/>
<rect x="84.80" y="188.40" width="10.67" height="1.20" fill="rgb(209,97,105)"/>
<rect x="105.53" y="188.40" width="10.67" height="1.20" fill="rgb(219,113,119)"/>
<rect x="115.90" y="188.40" width="10.67" height="1.20" fill="rgb(77,65,160)"/>
<rect x="84.80" y="189.60" width="10.67" height="1.20" fill="rgb(226,114,115)"/>
<rect x="105.53" y="189.60" width="10.67" height="1.20" fill="rgb(217,111,118)"/>
<rect x="115.90" y="189.60" width="10.67" height="1.20" fill="rgb(87,75,166)"/>
<rect x="136.63" y="189.60" width="10.67" height="1.20" fill="rgb(113,105,185)"/>
<rect x="84.80" y="190.80" width="10.67" height="1.00" fill="rgb(228,116,116)"/>
<rect x="126.27" y="190.80" width="10.67" height="1.00" fill="rgb(117,111,191)"/>
<rect x="136.63" y="190.80" width="10.67" height="1.00" fill="rgb(119,111,189)"/>
<rect x="84.80" y="191.80" width="10.67" height="1.50" fill="rgb(225,113,115)"/>
<rect x="105.53" y="191.80" width="10.67" height="1.50" fill="rgb(217,111,117)"/>
<rect x="115.90" y="191.80" width="10.67" height="1.50" fill="rgb(77,65,160)"/>
<rect x="126.27" y="191.80" width="10.67" height="1.50" fill="rgb(99,93,180)"/>
<rect x="84.80" y="193.30" width="10.67" height="1.50" fill="rgb(214,102,108)"/>
<rect x="95.17" y="193.30" width="10.67" height="1.50" fill="rgb(230,124,125)"/>
<rect x="105.53" y="193.30" width="10.67" height="1.50" fill="rgb(230,124,125)"/>
<rect x="84.80" y="194.80" width="10.67" height="1.50" fill="rgb(226,114,116)"/>
<rect x="115.90" y="194.80" width="10.67" height="1.50" fill="rgb(68,56,154)"/>
<rect x="136.63" y="194.80" width="10.67" height="1.50" fill="rgb(117,109,187)"/>
<rect x="84.80" y="196.30" width="10.67" height="1.20" fill="rgb(228,116,117)"/>
<rect x="95.17" y="196.30" width="10.67" height="1.20" fill="rgb(231,125,126)"/>
<rect x="105.53" y="196.30" width="10.67" height="1.20" fill="rgb(210,104,114)"/>
<rect x="115.90" y="196.30" width="10.67" height="1.20" fill="rgb(63,51,151)"/>
<rect x="126.27" y="196.30" width="10.67" height="1.20" fill="rgb(94,88,177)"/>
<rect x="84.80" y="197.50" width="10.67" height="0.80" fill="rgb(224,112,114)"/>
<rect x="105.53" y="197.50" width="10.67" height="0.80" fill="rgb(219,113,119)"/>
<rect x="115.90" y="197.50" width="10.67" height="0.80" fill="rgb(77,65,160)"/>
<rect x="126.27" y="197.50" width="10.67" height="0.80" fill="rgb(116,110,190)"/>
<rect x="95.17" y="198.30" width="10.67" height="0.80" fill="rgb(219,113,119)"/>
<rect x="105.53" y="198.30" width="10.67" height="0.80" fill="rgb(212,106,114)"/>
<rect x="115.90" y="198.30" width="10.67" height="0.80" fill="rgb(77,65,160)"/>
<rect x="136.63" y="198.30" width="10.67" height="0.80" fill="rgb(107,99,182)"/>
<rect x="84.80" y="199.10" width="10.67" height="0.80" fill="rgb(226,114,115)"/>
<rect x="105.53" y="199.10" width="10.67" height="0.80" fill="rgb(231,125,126)"/>
<rect x="115.90" y="199.10" width="10.67" height="0.80" fill="rgb(91,79,168)"/>
<rect x="84.80" y="199.90" width="10.67" height="1.50" fill="rgb(232,120,119)"/>
<rect x="95.17" y="199.90" width="10.67" height="1.50" fill="rgb(204,98,110)"/>
<rect x="105.53" y="199.90" width="10.67" height="1.50" fill="rgb(220,114,119)"/>
<rect x="84.80" y="201.40" width="10.67" height="1.50" fill="rgb(223,111,114)"/>
<rect x="105.53" y="201.40" width="10.67" height="1.50" fill="rgb(229,123,125)"/>
<rect x="126.27" y="201.40" width="10.67" height="1.50" fill="rgb(102,96,182)"/>
<rect x="136.63" y="201.40" width="10.67" height="1.50" fill="rgb(115,107,186)"/>
<rect x="84.80" y="202.90" width="10.67" height="1.50" fill="rgb(230,118,118)"/>
<rect x="95.17" y="202.90" width="10.67" height="1.50" fill="rgb(230,124,125)"/>
<rect x="105.53" y="202.90" width="10.67" height="1.50" fill="rgb(227,121,124)"/>
<rect x="115.90" y="202.90" width="10.67" height="1.50" fill="rgb(83,71,163)"/>
<rect x="126.27" y="202.90" width="10.67" height="1.50" fill="rgb(105,99,183)"/>
<rect x="84.80" y="204.40" width="10.67" height="1.50" fill="rgb(228,116,116)"/>
<rect x="105.53" y="204.40" width="10.67" height="1.50" fill="rgb(229,123,125)"/>
<rect x="115.90" y="204.40" width="10.67" height="1.50" fill="rgb(61,49,150)"/>
<rect x="126.27" y="205.90" width="10.67" height="0.80" fill="rgb(106,100,184)"/>
<rect x="136.63" y="205.90" width="10.67" height="0.80" fill="rgb(99,91,177)"/>
<rect x="84.80" y="206.70" width="10.67" height="1.20" fill="rgb(230,118,118)"/>
<rect x="115.90" y="206.70" width="10.67" height="1.20" fill="rgb(86,74,165)"/>
<rect x="136.63" y="206.70" width="10.67" height="1.20" fill="rgb(109,101,183)"/>
<rect x="95.17" y="207.90" width="10.67" height="0.80" fill="rgb(213,107,115)"/>
<rect x="105.53" y="207.90" width="10.67" height="0.80" fill="rgb(230,124,125)"/>
<rect x="115.90" y="207.90" width="10.67" height="0.80" fill="rgb(55,43,147)"/>
<rect x="126.27" y="207.90" width="10.67" height="0.80" fill="rgb(125,119,196)"/>
<rect x="136.63" y="207.90" width="10.67" height="0.80" fill="rgb(109,101,183)"/>
<rect x="84.80" y="208.70" width="10.67" height="0.80" fill="rgb(200,88,100)"/>
<rect x="95.17" y="208.70" width="10.67" height="0.80" fill="rgb(227,121,123)"/>
<rect x="105.53" y="208.70" width="10.67" height="0.80" fill="rgb(231,125,126)"/>
<rect x="136.63" y="208.70" width="10.67" height="0.80" fill="rgb(112,104,185)"/>
<rect x="84.80" y="209.50" width="10.67" height="1.50" fill="rgb(226,114,115)"/>
<rect x="95.17" y="209.50" width="10.67" height="1.50" fill="rgb(230,124,126)"/>
<rect x="105.53" y="209.50" width="10.67" height="1.50" fill="rgb(242,136,133)"/>
<rect x="126.27" y="209.50" width="10.67" height="1.50" fill="rgb(107,101,185)"/>
<rect x="136.63" y="209.50" width="10.67" height="1.50" fill="rgb(115,107,186)"/>
<rect x="84.80" y="211.00" width="10.67" height="1.00" fill="rgb(214,102,108)"/>
<rect x="95.17" y="211.00" width="10.67" height="1.00" fill="rgb(219,113,119)"/>
<rect x="105.53" y="211.00" width="10.67" height="1.00" fill="rgb(220,114,120)"/>
<rect x="115.90" y="211.00" width="10.67" height="1.00" fill="rgb(80,68,162)"/>
<rect x="136.63" y="211.00" width="10.67" height="1.00" fill="rgb(100,92,178)"/>
<rect x="84.8" y="129" width="10.4" height="6" fill="rgb(62,52,148)" opacity="0.7"/>
</g></g>
<rect x="78" y="80.4" width="1.3" height="54.5" fill="#444"/>
<rect x="78" y="140" width="1.3" height="75" fill="#444"/>
<text x="75.80" y="100.60" font-size="5.6" text-anchor="end" fill="#222" textLength="28" lengthAdjust="spacingAndGlyphs">1053 genes</text>
<text x="75.80" y="107.15" font-size="5.6" text-anchor="end" fill="#222" textLength="39.3" lengthAdjust="spacingAndGlyphs">Up-regulated in</text>
<text x="75.80" y="113.70" font-size="5.6" text-anchor="end" fill="#222" textLength="16.2" lengthAdjust="spacingAndGlyphs">CDKO</text>
<text x="75.80" y="170.00" font-size="5.6" text-anchor="end" fill="#222" textLength="28.3" lengthAdjust="spacingAndGlyphs">2509 genes</text>
<text x="75.80" y="176.35" font-size="5.6" text-anchor="end" fill="#222" textLength="46.2" lengthAdjust="spacingAndGlyphs">Down-regulated in</text>
<text x="75.80" y="182.70" font-size="5.6" text-anchor="end" fill="#222" textLength="16.2" lengthAdjust="spacingAndGlyphs">CDKO</text>
<text class="t" x="89.70" y="65.30" font-size="5.6" text-anchor="start" fill="#222" transform="rotate(-90 89.70 65.30)">Control 1</text>
<text class="t" x="100.84" y="65.30" font-size="5.6" text-anchor="start" fill="#222" transform="rotate(-90 100.84 65.30)">Control 2</text>
<text class="t" x="111.98" y="65.30" font-size="5.6" text-anchor="start" fill="#222" transform="rotate(-90 111.98 65.30)">Control 3</text>
<text class="t" x="123.12" y="65.30" font-size="5.6" text-anchor="start" fill="#222" transform="rotate(-90 123.12 65.30)">CDKO 1</text>
<text class="t" x="134.26" y="65.30" font-size="5.6" text-anchor="start" fill="#222" transform="rotate(-90 134.26 65.30)">CDKO 2</text>
<text class="t" x="145.40" y="65.30" font-size="5.6" text-anchor="start" fill="#222" transform="rotate(-90 145.40 65.30)">CDKO 3</text>
<text x="116.20" y="38.00" font-size="5.6" text-anchor="middle" fill="#222" textLength="52.3" lengthAdjust="spacingAndGlyphs">Protien coding genes</text>
<path d="M135.5 80 V68.7 H228" fill="none" stroke="#111" stroke-width="1.1"/>
<path d="M226 65.3 L235.3 68.7 L226 72.1 Z" fill="#111"/>
<path d="M135.5 212 V226.3 H228" fill="none" stroke="#111" stroke-width="1.1"/>
<path d="M226 222.9 L235.3 226.3 L226 229.7 Z" fill="#111"/>
<rect x="147" y="82.95" width="28.6" height="1.3" fill="#1a1a1a"/>
<text class="t" x="178.80" y="86.00" font-size="5.8" text-anchor="start" fill="#222" style='font-family:"Liberation Serif", serif'>IL-6</text>
<rect x="147" y="98.55" width="28.6" height="1.3" fill="#1a1a1a"/>
<text class="t" x="178.80" y="101.60" font-size="5.8" text-anchor="start" fill="#222" style='font-family:"Liberation Serif", serif'>TNF-α</text>
<rect x="147" y="122.65" width="28.6" height="1.3" fill="#1a1a1a"/>
<text class="t" x="178.80" y="125.70" font-size="5.8" text-anchor="start" fill="#222" style='font-family:"Liberation Serif", serif'>IL-1β</text>
<rect x="147" y="197.65" width="28.6" height="1.3" fill="#1a1a1a"/>
<text class="t" x="178.80" y="200.70" font-size="5.8" text-anchor="start" fill="#222" style='font-family:"Liberation Serif", serif'>C/EBPα</text>
<rect x="85.5" y="237.7" width="53.3" height="6.1" fill="url(#zg)"/>
<text x="112.70" y="233.30" font-size="5.6" text-anchor="middle" fill="#222">Z-score</text>
<text x="76.50" y="254.00" font-size="5.6" text-anchor="start" fill="#222">-1.68</text>
<text x="133.50" y="254.00" font-size="5.6" text-anchor="start" fill="#222">2.02</text>
<text x="365.40" y="37.50" font-size="5.6" text-anchor="middle" fill="#222" textLength="71.8" lengthAdjust="spacingAndGlyphs">Curated Pathways Gene Sets</text>
<text x="246.00" y="285.20" font-size="5.6" text-anchor="middle" fill="#222" textLength="69.6" lengthAdjust="spacingAndGlyphs">Cancer Hallmarks Gene Sets</text>
<rect x="264.00" y="57.00" width="95.30" height="54.20" fill="none" stroke="#e2e2e2" stroke-width="0.6"/>
<rect x="264.00" y="111.20" width="95.30" height="18.10" fill="none" stroke="#dcdcdc" stroke-width="0.6"/>
<line x1="264.00" x2="359.30" y1="65.90" y2="65.90" stroke="#bcbcbc" stroke-width="0.7"/>
<line x1="264.00" x2="264.00" y1="57.00" y2="129.30" stroke="#cccccc" stroke-width="0.8"/>
<text class="t" x="260.40" y="61.10" font-size="4.2" text-anchor="end" fill="#444" textLength="4.8" lengthAdjust="spacingAndGlyphs">0.1</text>
<text class="t" x="260.40" y="67.30" font-size="4.2" text-anchor="end" fill="#444" textLength="4.8" lengthAdjust="spacingAndGlyphs">0.0</text>
<text class="t" x="260.40" y="73.50" font-size="4.2" text-anchor="end" fill="#444" textLength="5.1" lengthAdjust="spacingAndGlyphs">-0.1</text>
<text class="t" x="260.40" y="79.70" font-size="4.2" text-anchor="end" fill="#444" textLength="5.1" lengthAdjust="spacingAndGlyphs">-0.2</text>
<text class="t" x="260.40" y="85.90" font-size="4.2" text-anchor="end" fill="#444" textLength="5.1" lengthAdjust="spacingAndGlyphs">-0.3</text>
<text class="t" x="260.40" y="92.10" font-size="4.2" text-anchor="end" fill="#444" textLength="5.1" lengthAdjust="spacingAndGlyphs">-0.4</text>
<text class="t" x="260.40" y="98.30" font-size="4.2" text-anchor="end" fill="#444" textLength="5.1" lengthAdjust="spacingAndGlyphs">-0.5</text>
<text class="t" x="260.40" y="104.50" font-size="4.2" text-anchor="end" fill="#444" textLength="5.1" lengthAdjust="spacingAndGlyphs">-0.6</text>
<text class="t" x="260.40" y="110.70" font-size="4.2" text-anchor="end" fill="#444" textLength="5.1" lengthAdjust="spacingAndGlyphs">-0.7</text>
<text class="t" x="249.30" y="84.80" font-size="4.6" text-anchor="middle" fill="#333" textLength="41.5" lengthAdjust="spacingAndGlyphs" transform="rotate(-90 249.30 84.80)">Enrichment score (ES)</text>
<rect x="264.00" y="111.60" width="0.80" height="17.70" fill="#111" fill-opacity="0.680"/>
<rect x="266.30" y="111.60" width="0.80" height="17.70" fill="#111" fill-opacity="0.340"/>
<rect x="269.60" y="111.60" width="0.80" height="17.70" fill="#111" fill-opacity="0.510"/>
<rect x="279.40" y="111.60" width="0.80" height="17.70" fill="#111" fill-opacity="0.510"/>
<rect x="284.10" y="111.60" width="0.80" height="17.70" fill="#111" fill-opacity="0.510"/>
<rect x="282.10" y="111.60" width="0.80" height="17.70" fill="#111" fill-opacity="0.340"/>
<rect x="288.00" y="111.60" width="0.80" height="17.70" fill="#111" fill-opacity="0.765"/>
<rect x="292.00" y="111.60" width="0.80" height="17.70" fill="#111" fill-opacity="0.510"/>
<rect x="300.80" y="111.60" width="0.80" height="17.70" fill="#111" fill-opacity="0.510"/>
<rect x="306.60" y="111.60" width="0.80" height="17.70" fill="#111" fill-opacity="0.510"/>
<rect x="312.60" y="111.60" width="3.80" height="17.70" fill="#111" fill-opacity="0.100"/>
<rect x="312.55" y="111.60" width="0.9" height="17.70" fill="#111" fill-opacity="0.671"/>
<rect x="314.80" y="111.60" width="0.9" height="17.70" fill="#111" fill-opacity="0.667"/>
<rect x="318.40" y="111.60" width="1.80" height="17.70" fill="#111" fill-opacity="0.510"/>
<rect x="323.40" y="111.60" width="0.80" height="17.70" fill="#111" fill-opacity="0.510"/>
<rect x="327.30" y="111.60" width="0.80" height="17.70" fill="#111" fill-opacity="0.510"/>
<rect x="331.20" y="111.60" width="2.80" height="17.70" fill="#111" fill-opacity="0.425"/>
<rect x="337.10" y="111.60" width="2.70" height="17.70" fill="#111" fill-opacity="0.425"/>
<rect x="342.00" y="111.60" width="1.80" height="17.70" fill="#111" fill-opacity="0.510"/>
<rect x="345.90" y="111.60" width="0.80" height="17.70" fill="#111" fill-opacity="0.510"/>
<rect x="347.90" y="111.60" width="3.50" height="17.70" fill="#111" fill-opacity="0.170"/>
<rect x="347.85" y="111.60" width="0.9" height="17.70" fill="#111" fill-opacity="1.000"/>
<rect x="350.09" y="111.60" width="0.9" height="17.70" fill="#111" fill-opacity="1.000"/>
<rect x="351.10" y="111.60" width="3.50" height="17.70" fill="#111" fill-opacity="0.190"/>
<rect x="351.05" y="111.60" width="0.9" height="17.70" fill="#111" fill-opacity="0.795"/>
<rect x="353.01" y="111.60" width="0.9" height="17.70" fill="#111" fill-opacity="1.000"/>
<rect x="264.00" y="129.80" width="90.50" height="4.20" fill="url(#cb)"/>
<polyline points="263.90,61.70 264.70,59.40 267.00,59.50 271.20,61.30 290.00,73.00 310.00,85.40 330.00,97.80 346.60,107.90 347.80,108.40 349.50,104.40 351.40,102.00 352.30,97.00 353.30,82.80 354.70,64.60" fill="none" stroke="#78ec78" stroke-width="2.2" stroke-linejoin="round" opacity="0.75"/>
<polyline points="263.90,61.70 264.70,59.40 267.00,59.50 271.20,61.30 290.00,73.00 310.00,85.40 330.00,97.80 346.60,107.90 347.80,108.40 349.50,104.40 351.40,102.00 352.30,97.00 353.30,82.80 354.70,64.60" fill="none" stroke="#40c440" stroke-width="0.9" stroke-linejoin="round"/>
<text x="311.50" y="52.20" font-size="5.6" text-anchor="middle" fill="#222" textLength="52.8" lengthAdjust="spacingAndGlyphs">Hecker IFNB1 Targets</text>
<text x="318.80" y="75.80" font-size="5.6" text-anchor="start" fill="#111" textLength="23.6" lengthAdjust="spacingAndGlyphs">NES -2.21</text>
<text x="318.80" y="82.00" font-size="5.6" text-anchor="start" fill="#111" textLength="24.9" lengthAdjust="spacingAndGlyphs">FDR 0.002</text>
<rect x="386.50" y="58.40" width="93.70" height="52.60" fill="none" stroke="#e2e2e2" stroke-width="0.6"/>
<rect x="386.50" y="111.00" width="93.70" height="17.50" fill="none" stroke="#dcdcdc" stroke-width="0.6"/>
<line x1="386.50" x2="480.20" y1="59.80" y2="59.80" stroke="#bcbcbc" stroke-width="0.7"/>
<line x1="386.50" x2="386.50" y1="58.40" y2="128.50" stroke="#cccccc" stroke-width="0.8"/>
<text class="t" x="383.30" y="61.20" font-size="4.2" text-anchor="end" fill="#444" textLength="4.8" lengthAdjust="spacingAndGlyphs">0.0</text>
<text class="t" x="383.30" y="69.10" font-size="4.2" text-anchor="end" fill="#444" textLength="5.1" lengthAdjust="spacingAndGlyphs">-0.1</text>
<text class="t" x="383.30" y="77.00" font-size="4.2" text-anchor="end" fill="#444" textLength="5.1" lengthAdjust="spacingAndGlyphs">-0.2</text>
<text class="t" x="383.30" y="84.90" font-size="4.2" text-anchor="end" fill="#444" textLength="5.1" lengthAdjust="spacingAndGlyphs">-0.3</text>
<text class="t" x="383.30" y="92.80" font-size="4.2" text-anchor="end" fill="#444" textLength="5.1" lengthAdjust="spacingAndGlyphs">-0.4</text>
<text class="t" x="383.30" y="100.70" font-size="4.2" text-anchor="end" fill="#444" textLength="5.1" lengthAdjust="spacingAndGlyphs">-0.5</text>
<text class="t" x="383.30" y="108.60" font-size="4.2" text-anchor="end" fill="#444" textLength="5.1" lengthAdjust="spacingAndGlyphs">-0.6</text>
<text class="t" x="372.30" y="83.50" font-size="4.6" text-anchor="middle" fill="#333" textLength="41.5" lengthAdjust="spacingAndGlyphs" transform="rotate(-90 372.30 83.50)">Enrichment score (ES)</text>
<rect x="401.90" y="111.40" width="0.80" height="17.10" fill="#111" fill-opacity="0.510"/>
<rect x="407.60" y="111.40" width="0.80" height="17.10" fill="#111" fill-opacity="0.510"/>
<rect x="411.50" y="111.40" width="3.70" height="17.10" fill="#111" fill-opacity="0.100"/>
<rect x="411.45" y="111.40" width="0.9" height="17.10" fill="#111" fill-opacity="0.326"/>
<rect x="413.68" y="111.40" width="0.9" height="17.10" fill="#111" fill-opacity="0.519"/>
<rect x="417.30" y="111.40" width="0.80" height="17.10" fill="#111" fill-opacity="0.510"/>
<rect x="420.10" y="111.40" width="2.80" height="17.10" fill="#111" fill-opacity="0.722"/>
<rect x="424.90" y="111.40" width="2.80" height="17.10" fill="#111" fill-opacity="0.425"/>
<rect x="428.80" y="111.40" width="0.80" height="17.10" fill="#111" fill-opacity="0.510"/>
<rect x="440.30" y="111.40" width="1.80" height="17.10" fill="#111" fill-opacity="0.510"/>
<rect x="443.20" y="111.40" width="2.70" height="17.10" fill="#111" fill-opacity="0.425"/>
<rect x="447.10" y="111.40" width="3.60" height="17.10" fill="#111" fill-opacity="0.100"/>
<rect x="447.05" y="111.40" width="0.9" height="17.10" fill="#111" fill-opacity="0.417"/>
<rect x="449.13" y="111.40" width="0.9" height="17.10" fill="#111" fill-opacity="0.553"/>
<rect x="451.90" y="111.40" width="0.80" height="17.10" fill="#111" fill-opacity="0.510"/>
<rect x="453.80" y="111.40" width="7.60" height="17.10" fill="#111" fill-opacity="0.120"/>
<rect x="453.75" y="111.40" width="0.9" height="17.10" fill="#111" fill-opacity="0.390"/>
<rect x="455.55" y="111.40" width="0.9" height="17.10" fill="#111" fill-opacity="0.819"/>
<rect x="457.46" y="111.40" width="0.9" height="17.10" fill="#111" fill-opacity="0.449"/>
<rect x="459.62" y="111.40" width="0.9" height="17.10" fill="#111" fill-opacity="0.456"/>
<rect x="462.40" y="111.40" width="2.80" height="17.10" fill="#111" fill-opacity="0.510"/>
<rect x="466.30" y="111.40" width="4.60" height="17.10" fill="#111" fill-opacity="0.120"/>
<rect x="466.25" y="111.40" width="0.9" height="17.10" fill="#111" fill-opacity="0.749"/>
<rect x="468.29" y="111.40" width="0.9" height="17.10" fill="#111" fill-opacity="0.480"/>
<rect x="472.10" y="111.40" width="2.70" height="17.10" fill="#111" fill-opacity="0.510"/>
<rect x="478.80" y="111.40" width="0.80" height="17.10" fill="#111" fill-opacity="0.340"/>
<rect x="386.50" y="128.50" width="93.10" height="4.20" fill="url(#cb)"/>
<polyline points="386.50,59.80 391.70,63.60 395.50,67.10 400.30,70.30 402.30,71.70 407.10,74.20 412.80,77.10 422.50,83.80 432.10,91.50 441.70,99.20 449.40,105.00 453.20,107.50 456.10,106.90 460.00,103.00 462.80,99.20 465.70,93.40 468.60,86.70 471.50,79.00 474.40,68.40 475.90,63.60 477.30,62.70 478.60,64.60 479.80,58.80" fill="none" stroke="#78ec78" stroke-width="2.2" stroke-linejoin="round" opacity="0.75"/>
<polyline points="386.50,59.80 391.70,63.60 395.50,67.10 400.30,70.30 402.30,71.70 407.10,74.20 412.80,77.10 422.50,83.80 432.10,91.50 441.70,99.20 449.40,105.00 453.20,107.50 456.10,106.90 460.00,103.00 462.80,99.20 465.70,93.40 468.60,86.70 471.50,79.00 474.40,68.40 475.90,63.60 477.30,62.70 478.60,64.60 479.80,58.80" fill="none" stroke="#40c440" stroke-width="0.9" stroke-linejoin="round"/>
<text x="435.70" y="51.50" font-size="5.6" text-anchor="middle" fill="#222" textLength="63.1" lengthAdjust="spacingAndGlyphs">Reactome DNA Synthesis</text>
<text x="433.10" y="75.60" font-size="5.6" text-anchor="start" fill="#111" textLength="24.4" lengthAdjust="spacingAndGlyphs">NES -2.00</text>
<text x="433.10" y="81.80" font-size="5.6" text-anchor="start" fill="#111" textLength="24.8" lengthAdjust="spacingAndGlyphs">FDR 0.038</text>
<rect x="265.20" y="193.20" width="92.30" height="50.00" fill="none" stroke="#e2e2e2" stroke-width="0.6"/>
<rect x="265.20" y="243.20" width="92.30" height="17.60" fill="none" stroke="#dcdcdc" stroke-width="0.6"/>
<line x1="265.20" x2="357.50" y1="241.70" y2="241.70" stroke="#bcbcbc" stroke-width="0.7"/>
<line x1="265.20" x2="265.20" y1="193.20" y2="260.80" stroke="#cccccc" stroke-width="0.8"/>
<text class="t" x="262.00" y="196.22" font-size="4.2" text-anchor="end" fill="#444" textLength="5.0" lengthAdjust="spacingAndGlyphs">0.8</text>
<text class="t" x="262.00" y="202.08" font-size="4.2" text-anchor="end" fill="#444" textLength="5.0" lengthAdjust="spacingAndGlyphs">0.7</text>
<text class="t" x="262.00" y="207.94" font-size="4.2" text-anchor="end" fill="#444" textLength="5.0" lengthAdjust="spacingAndGlyphs">0.6</text>
<text class="t" x="262.00" y="213.80" font-size="4.2" text-anchor="end" fill="#444" textLength="5.0" lengthAdjust="spacingAndGlyphs">0.5</text>
<text class="t" x="262.00" y="219.66" font-size="4.2" text-anchor="end" fill="#444" textLength="5.0" lengthAdjust="spacingAndGlyphs">0.4</text>
<text class="t" x="262.00" y="225.52" font-size="4.2" text-anchor="end" fill="#444" textLength="5.0" lengthAdjust="spacingAndGlyphs">0.3</text>
<text class="t" x="262.00" y="231.38" font-size="4.2" text-anchor="end" fill="#444" textLength="5.0" lengthAdjust="spacingAndGlyphs">0.2</text>
<text class="t" x="262.00" y="237.24" font-size="4.2" text-anchor="end" fill="#444" textLength="5.0" lengthAdjust="spacingAndGlyphs">0.1</text>
<text class="t" x="262.00" y="243.10" font-size="4.2" text-anchor="end" fill="#444" textLength="5.0" lengthAdjust="spacingAndGlyphs">0.0</text>
<text class="t" x="251.60" y="218.10" font-size="4.6" text-anchor="middle" fill="#333" textLength="41.5" lengthAdjust="spacingAndGlyphs" transform="rotate(-90 251.60 218.10)">Enrichment score (ES)</text>
<rect x="265.20" y="243.60" width="0.80" height="17.20" fill="#111" fill-opacity="0.807"/>
<rect x="266.20" y="243.60" width="0.80" height="17.20" fill="#111" fill-opacity="0.595"/>
<rect x="267.20" y="243.60" width="0.80" height="17.20" fill="#111" fill-opacity="0.722"/>
<rect x="268.20" y="243.60" width="0.80" height="17.20" fill="#111" fill-opacity="0.468"/>
<rect x="269.20" y="243.60" width="0.80" height="17.20" fill="#111" fill-opacity="0.510"/>
<rect x="273.10" y="243.60" width="0.80" height="17.20" fill="#111" fill-opacity="0.510"/>
<rect x="279.50" y="243.60" width="0.80" height="17.20" fill="#111" fill-opacity="0.510"/>
<rect x="292.40" y="243.60" width="1.70" height="17.20" fill="#111" fill-opacity="0.510"/>
<rect x="296.20" y="243.60" width="0.80" height="17.20" fill="#111" fill-opacity="0.510"/>
<rect x="302.00" y="243.60" width="0.80" height="17.20" fill="#111" fill-opacity="0.510"/>
<rect x="318.90" y="243.60" width="0.80" height="17.20" fill="#111" fill-opacity="0.510"/>
<rect x="324.10" y="243.60" width="2.70" height="17.20" fill="#111" fill-opacity="0.425"/>
<rect x="328.90" y="243.60" width="0.80" height="17.20" fill="#111" fill-opacity="0.510"/>
<rect x="346.20" y="243.60" width="0.80" height="17.20" fill="#111" fill-opacity="0.510"/>
<rect x="349.60" y="243.60" width="0.80" height="17.20" fill="#111" fill-opacity="0.510"/>
<rect x="265.20" y="261.30" width="89.10" height="3.70" fill="url(#cb)"/>
<polyline points="265.50,240.90 265.80,226.50 266.80,213.00 267.80,205.30 268.70,199.50 269.70,196.70 271.60,196.10 273.50,197.20 275.50,196.70 278.30,198.60 280.30,199.20 281.20,198.60 285.10,201.50 290.80,205.30 300.50,210.10 310.10,215.90 319.70,222.20 329.30,228.40 338.90,234.20 344.70,238.40 347.60,239.50 349.50,239.00 351.40,239.90 354.30,241.50" fill="none" stroke="#78ec78" stroke-width="2.2" stroke-linejoin="round" opacity="0.75"/>
<polyline points="265.50,240.90 265.80,226.50 266.80,213.00 267.80,205.30 268.70,199.50 269.70,196.70 271.60,196.10 273.50,197.20 275.50,196.70 278.30,198.60 280.30,199.20 281.20,198.60 285.10,201.50 290.80,205.30 300.50,210.10 310.10,215.90 319.70,222.20 329.30,228.40 338.90,234.20 344.70,238.40 347.60,239.50 349.50,239.00 351.40,239.90 354.30,241.50" fill="none" stroke="#40c440" stroke-width="0.9" stroke-linejoin="round"/>
<text x="312.30" y="188.60" font-size="5.6" text-anchor="middle" fill="#222" textLength="89.8" lengthAdjust="spacingAndGlyphs">Kamikubo Myeloid C/EBPα Network</text>
<text x="319.10" y="204.30" font-size="5.6" text-anchor="start" fill="#111" textLength="22" lengthAdjust="spacingAndGlyphs">NES 1.97</text>
<text x="319.10" y="210.50" font-size="5.6" text-anchor="start" fill="#111" textLength="24.8" lengthAdjust="spacingAndGlyphs">FDR 0.003</text>
<rect x="25.30" y="313.90" width="93.70" height="37.90" fill="none" stroke="#e2e2e2" stroke-width="0.6"/>
<rect x="25.30" y="351.80" width="93.70" height="14.50" fill="none" stroke="#dcdcdc" stroke-width="0.6"/>
<line x1="25.30" x2="119.00" y1="314.10" y2="314.10" stroke="#bcbcbc" stroke-width="0.7"/>
<line x1="25.30" x2="25.30" y1="313.90" y2="366.30" stroke="#cccccc" stroke-width="0.8"/>
<text class="t" x="22.00" y="315.50" font-size="4.2" text-anchor="end" fill="#444" textLength="4.8" lengthAdjust="spacingAndGlyphs">0.0</text>
<text class="t" x="22.00" y="321.14" font-size="4.2" text-anchor="end" fill="#444" textLength="5.0" lengthAdjust="spacingAndGlyphs">-0.1</text>
<text class="t" x="22.00" y="326.78" font-size="4.2" text-anchor="end" fill="#444" textLength="5.0" lengthAdjust="spacingAndGlyphs">-0.2</text>
<text class="t" x="22.00" y="332.42" font-size="4.2" text-anchor="end" fill="#444" textLength="5.0" lengthAdjust="spacingAndGlyphs">-0.3</text>
<text class="t" x="22.00" y="338.06" font-size="4.2" text-anchor="end" fill="#444" textLength="5.0" lengthAdjust="spacingAndGlyphs">-0.4</text>
<text class="t" x="22.00" y="343.70" font-size="4.2" text-anchor="end" fill="#444" textLength="5.0" lengthAdjust="spacingAndGlyphs">-0.5</text>
<text class="t" x="22.00" y="349.34" font-size="4.2" text-anchor="end" fill="#444" textLength="5.0" lengthAdjust="spacingAndGlyphs">-0.6</text>
<text class="t" x="11.10" y="331.20" font-size="4.6" text-anchor="middle" fill="#333" textLength="41" lengthAdjust="spacingAndGlyphs" transform="rotate(-90 11.10 331.20)">Enrichment score (ES)</text>
<rect x="31.40" y="352.20" width="1.80" height="14.10" fill="#111" fill-opacity="0.510"/>
<rect x="33.80" y="352.20" width="0.80" height="14.10" fill="#111" fill-opacity="0.510"/>
<rect x="40.70" y="352.20" width="1.70" height="14.10" fill="#111" fill-opacity="0.680"/>
<rect x="43.90" y="352.20" width="1.70" height="14.10" fill="#111" fill-opacity="0.510"/>
<rect x="47.10" y="352.20" width="1.80" height="14.10" fill="#111" fill-opacity="0.510"/>
<rect x="50.40" y="352.20" width="1.70" height="14.10" fill="#111" fill-opacity="0.510"/>
<rect x="53.10" y="352.20" width="1.80" height="14.10" fill="#111" fill-opacity="0.510"/>
<rect x="55.50" y="352.20" width="1.70" height="14.10" fill="#111" fill-opacity="0.510"/>
<rect x="58.20" y="352.20" width="4.20" height="14.10" fill="#111" fill-opacity="0.080"/>
<rect x="58.15" y="352.20" width="0.9" height="14.10" fill="#111" fill-opacity="0.410"/>
<rect x="59.96" y="352.20" width="0.9" height="14.10" fill="#111" fill-opacity="0.507"/>
<rect x="61.60" y="352.20" width="3.90" height="14.10" fill="#111" fill-opacity="0.120"/>
<rect x="61.55" y="352.20" width="0.9" height="14.10" fill="#111" fill-opacity="0.811"/>
<rect x="63.23" y="352.20" width="0.9" height="14.10" fill="#111" fill-opacity="0.760"/>
<rect x="79.80" y="352.20" width="2.20" height="14.10" fill="#111" fill-opacity="0.383"/>
<rect x="82.70" y="352.20" width="0.80" height="14.10" fill="#111" fill-opacity="0.510"/>
<rect x="84.10" y="352.20" width="0.80" height="14.10" fill="#111" fill-opacity="0.510"/>
<rect x="86.50" y="352.20" width="1.80" height="14.10" fill="#111" fill-opacity="0.765"/>
<rect x="89.90" y="352.20" width="1.70" height="14.10" fill="#111" fill-opacity="0.510"/>
<rect x="92.30" y="352.20" width="2.20" height="14.10" fill="#111" fill-opacity="0.510"/>
<rect x="96.60" y="352.20" width="2.20" height="14.10" fill="#111" fill-opacity="0.510"/>
<rect x="99.50" y="352.20" width="3.70" height="14.10" fill="#111" fill-opacity="0.090"/>
<rect x="99.45" y="352.20" width="0.9" height="14.10" fill="#111" fill-opacity="0.376"/>
<rect x="101.21" y="352.20" width="0.9" height="14.10" fill="#111" fill-opacity="0.465"/>
<rect x="103.80" y="352.20" width="1.80" height="14.10" fill="#111" fill-opacity="0.680"/>
<rect x="106.70" y="352.20" width="2.20" height="14.10" fill="#111" fill-opacity="0.510"/>
<rect x="109.10" y="352.20" width="2.70" height="14.10" fill="#111" fill-opacity="0.383"/>
<rect x="112.00" y="352.20" width="5.60" height="14.10" fill="#111" fill-opacity="0.140"/>
<rect x="111.95" y="352.20" width="0.9" height="14.10" fill="#111" fill-opacity="0.558"/>
<rect x="113.48" y="352.20" width="0.9" height="14.10" fill="#111" fill-opacity="0.657"/>
<rect x="115.30" y="352.20" width="0.9" height="14.10" fill="#111" fill-opacity="0.690"/>
<rect x="25.30" y="366.70" width="92.70" height="3.20" fill="url(#cb)"/>
<polyline points="25.50,314.30 28.70,315.70 31.60,317.60 35.50,318.60 41.20,321.10 47.00,323.00 52.80,326.30 60.50,330.70 70.10,336.80 79.70,342.60 89.30,347.00 97.00,349.30 102.80,350.30 106.60,349.30 110.50,344.50 113.30,334.90 115.80,323.40 118.20,314.70" fill="none" stroke="#c8f0a0" stroke-width="2.0" stroke-linejoin="round" opacity="0.75"/>
<polyline points="25.50,314.30 28.70,315.70 31.60,317.60 35.50,318.60 41.20,321.10 47.00,323.00 52.80,326.30 60.50,330.70 70.10,336.80 79.70,342.60 89.30,347.00 97.00,349.30 102.80,350.30 106.60,349.30 110.50,344.50 113.30,334.90 115.80,323.40 118.20,314.70" fill="none" stroke="#8fd060" stroke-width="1.0" stroke-linejoin="round"/>
<text x="72.50" y="299.70" font-size="5.6" text-anchor="middle" fill="#222" textLength="38.6" lengthAdjust="spacingAndGlyphs">IFN-α Response</text>
<text x="72.00" y="305.90" font-size="5.6" text-anchor="middle" fill="#222" textLength="55.9" lengthAdjust="spacingAndGlyphs">(FDR: 0.00, NES: -2.19)</text>
<rect x="151.20" y="311.70" width="100.10" height="43.80" fill="none" stroke="#e2e2e2" stroke-width="0.6"/>
<rect x="151.20" y="355.50" width="100.10" height="14.70" fill="none" stroke="#dcdcdc" stroke-width="0.6"/>
<line x1="151.20" x2="251.30" y1="316.60" y2="316.60" stroke="#bcbcbc" stroke-width="0.7"/>
<line x1="151.20" x2="151.20" y1="311.70" y2="370.20" stroke="#cccccc" stroke-width="0.8"/>
<text class="t" x="147.40" y="318.00" font-size="4.2" text-anchor="end" fill="#444" textLength="4.6" lengthAdjust="spacingAndGlyphs">0.0</text>
<text class="t" x="147.40" y="324.90" font-size="4.2" text-anchor="end" fill="#444" textLength="4.8" lengthAdjust="spacingAndGlyphs">-0.1</text>
<text class="t" x="147.40" y="331.80" font-size="4.2" text-anchor="end" fill="#444" textLength="4.8" lengthAdjust="spacingAndGlyphs">-0.2</text>
<text class="t" x="147.40" y="338.70" font-size="4.2" text-anchor="end" fill="#444" textLength="4.8" lengthAdjust="spacingAndGlyphs">-0.3</text>
<text class="t" x="147.40" y="345.60" font-size="4.2" text-anchor="end" fill="#444" textLength="4.8" lengthAdjust="spacingAndGlyphs">-0.4</text>
<text class="t" x="147.40" y="352.50" font-size="4.2" text-anchor="end" fill="#444" textLength="4.8" lengthAdjust="spacingAndGlyphs">-0.5</text>
<text class="t" x="137.30" y="333.70" font-size="4.6" text-anchor="middle" fill="#333" textLength="42" lengthAdjust="spacingAndGlyphs" transform="rotate(-90 137.30 333.70)">Enrichment score (ES)</text>
<rect x="151.00" y="355.90" width="3.70" height="14.30" fill="#111" fill-opacity="0.070"/>
<rect x="150.95" y="355.90" width="0.9" height="14.30" fill="#111" fill-opacity="0.342"/>
<rect x="152.57" y="355.90" width="0.9" height="14.30" fill="#111" fill-opacity="0.377"/>
<rect x="157.80" y="355.90" width="1.70" height="14.30" fill="#111" fill-opacity="0.680"/>
<rect x="161.10" y="355.90" width="1.80" height="14.30" fill="#111" fill-opacity="0.510"/>
<rect x="163.50" y="355.90" width="1.80" height="14.30" fill="#111" fill-opacity="0.510"/>
<rect x="166.90" y="355.90" width="1.80" height="14.30" fill="#111" fill-opacity="0.510"/>
<rect x="170.30" y="355.90" width="2.20" height="14.30" fill="#111" fill-opacity="0.807"/>
<rect x="173.20" y="355.90" width="2.70" height="14.30" fill="#111" fill-opacity="0.680"/>
<rect x="177.50" y="355.90" width="5.60" height="14.30" fill="#111" fill-opacity="0.090"/>
<rect x="177.45" y="355.90" width="0.9" height="14.30" fill="#111" fill-opacity="0.394"/>
<rect x="179.55" y="355.90" width="0.9" height="14.30" fill="#111" fill-opacity="0.486"/>
<rect x="181.16" y="355.90" width="0.9" height="14.30" fill="#111" fill-opacity="0.449"/>
<rect x="183.70" y="355.90" width="1.80" height="14.30" fill="#111" fill-opacity="0.510"/>
<rect x="186.10" y="355.90" width="2.30" height="14.30" fill="#111" fill-opacity="0.510"/>
<rect x="188.60" y="355.90" width="2.20" height="14.30" fill="#111" fill-opacity="0.510"/>
<rect x="190.90" y="355.90" width="2.30" height="14.30" fill="#111" fill-opacity="0.595"/>
<rect x="204.80" y="355.90" width="0.80" height="14.30" fill="#111" fill-opacity="0.255"/>
<rect x="206.30" y="355.90" width="0.80" height="14.30" fill="#111" fill-opacity="0.340"/>
<rect x="208.90" y="355.90" width="2.90" height="14.30" fill="#111" fill-opacity="0.680"/>
<rect x="213.60" y="355.90" width="2.40" height="14.30" fill="#111" fill-opacity="0.510"/>
<rect x="216.70" y="355.90" width="2.40" height="14.30" fill="#111" fill-opacity="0.680"/>
<rect x="219.80" y="355.90" width="1.90" height="14.30" fill="#111" fill-opacity="0.510"/>
<rect x="223.50" y="355.90" width="2.90" height="14.30" fill="#111" fill-opacity="0.722"/>
<rect x="228.20" y="355.90" width="2.30" height="14.30" fill="#111" fill-opacity="0.510"/>
<rect x="230.80" y="355.90" width="9.10" height="14.30" fill="#111" fill-opacity="0.100"/>
<rect x="230.75" y="355.90" width="0.9" height="14.30" fill="#111" fill-opacity="0.669"/>
<rect x="232.58" y="355.90" width="0.9" height="14.30" fill="#111" fill-opacity="0.393"/>
<rect x="234.36" y="355.90" width="0.9" height="14.30" fill="#111" fill-opacity="0.510"/>
<rect x="236.63" y="355.90" width="0.9" height="14.30" fill="#111" fill-opacity="0.469"/>
<rect x="238.37" y="355.90" width="0.9" height="14.30" fill="#111" fill-opacity="0.501"/>
<rect x="239.60" y="355.90" width="2.30" height="14.30" fill="#111" fill-opacity="0.510"/>
<rect x="242.70" y="355.90" width="3.40" height="14.30" fill="#111" fill-opacity="0.170"/>
<rect x="242.65" y="355.90" width="0.9" height="14.30" fill="#111" fill-opacity="0.731"/>
<rect x="244.38" y="355.90" width="0.9" height="14.30" fill="#111" fill-opacity="0.918"/>
<rect x="246.80" y="355.90" width="2.90" height="14.30" fill="#111" fill-opacity="0.722"/>
<rect x="151.20" y="370.40" width="99.30" height="3.40" fill="url(#cb)"/>
<polyline points="151.10,315.70 154.10,315.10 158.20,314.70 164.30,315.70 172.50,318.20 178.60,321.20 188.80,328.40 199.00,335.50 209.10,342.20 219.30,348.20 229.50,352.40 235.60,353.30 239.70,352.40 243.80,347.70 246.90,343.70 248.90,332.50 250.50,316.20" fill="none" stroke="#78ec78" stroke-width="2.2" stroke-linejoin="round" opacity="0.75"/>
<polyline points="151.10,315.70 154.10,315.10 158.20,314.70 164.30,315.70 172.50,318.20 178.60,321.20 188.80,328.40 199.00,335.50 209.10,342.20 219.30,348.20 229.50,352.40 235.60,353.30 239.70,352.40 243.80,347.70 246.90,343.70 248.90,332.50 250.50,316.20" fill="none" stroke="#40c440" stroke-width="0.9" stroke-linejoin="round"/>
<text x="203.00" y="299.70" font-size="5.6" text-anchor="middle" fill="#222" textLength="37.7" lengthAdjust="spacingAndGlyphs">IFN-γ Response</text>
<text x="203.10" y="305.90" font-size="5.6" text-anchor="middle" fill="#222" textLength="56.1" lengthAdjust="spacingAndGlyphs">(FDR: 0.00, NES: -1.97)</text>
<rect x="288.00" y="311.80" width="92.50" height="43.40" fill="none" stroke="#e2e2e2" stroke-width="0.6"/>
<rect x="288.00" y="355.20" width="92.50" height="14.60" fill="none" stroke="#dcdcdc" stroke-width="0.6"/>
<line x1="288.00" x2="380.50" y1="317.60" y2="317.60" stroke="#bcbcbc" stroke-width="0.7"/>
<line x1="288.00" x2="288.00" y1="311.80" y2="369.80" stroke="#cccccc" stroke-width="0.8"/>
<text class="t" x="285.30" y="315.24" font-size="4.2" text-anchor="end" fill="#444" textLength="7.6" lengthAdjust="spacingAndGlyphs">0.05</text>
<text class="t" x="285.30" y="319.00" font-size="4.2" text-anchor="end" fill="#444" textLength="7.6" lengthAdjust="spacingAndGlyphs">0.00</text>
<text class="t" x="285.30" y="322.76" font-size="4.2" text-anchor="end" fill="#444" textLength="8.2" lengthAdjust="spacingAndGlyphs">-0.05</text>
<text class="t" x="285.30" y="326.52" font-size="4.2" text-anchor="end" fill="#444" textLength="8.2" lengthAdjust="spacingAndGlyphs">-0.10</text>
<text class="t" x="285.30" y="330.28" font-size="4.2" text-anchor="end" fill="#444" textLength="8.2" lengthAdjust="spacingAndGlyphs">-0.15</text>
<text class="t" x="285.30" y="334.04" font-size="4.2" text-anchor="end" fill="#444" textLength="8.2" lengthAdjust="spacingAndGlyphs">-0.20</text>
<text class="t" x="285.30" y="337.80" font-size="4.2" text-anchor="end" fill="#444" textLength="8.2" lengthAdjust="spacingAndGlyphs">-0.25</text>
<text class="t" x="285.30" y="341.56" font-size="4.2" text-anchor="end" fill="#444" textLength="8.2" lengthAdjust="spacingAndGlyphs">-0.30</text>
<text class="t" x="285.30" y="345.32" font-size="4.2" text-anchor="end" fill="#444" textLength="8.2" lengthAdjust="spacingAndGlyphs">-0.35</text>
<text class="t" x="285.30" y="349.08" font-size="4.2" text-anchor="end" fill="#444" textLength="8.2" lengthAdjust="spacingAndGlyphs">-0.40</text>
<text class="t" x="285.30" y="352.84" font-size="4.2" text-anchor="end" fill="#444" textLength="8.2" lengthAdjust="spacingAndGlyphs">-0.45</text>
<text class="t" x="271.20" y="332.80" font-size="4.6" text-anchor="middle" fill="#333" textLength="40.4" lengthAdjust="spacingAndGlyphs" transform="rotate(-90 271.20 332.80)">Enrichment score (ES)</text>
<rect x="295.80" y="355.60" width="0.80" height="14.20" fill="#111" fill-opacity="0.255"/>
<rect x="304.10" y="355.60" width="4.50" height="14.20" fill="#111" fill-opacity="0.090"/>
<rect x="304.05" y="355.60" width="0.9" height="14.20" fill="#111" fill-opacity="0.446"/>
<rect x="305.73" y="355.60" width="0.9" height="14.20" fill="#111" fill-opacity="0.431"/>
<rect x="307.65" y="355.60" width="0.9" height="14.20" fill="#111" fill-opacity="0.535"/>
<rect x="310.60" y="355.60" width="2.60" height="14.20" fill="#111" fill-opacity="0.637"/>
<rect x="313.30" y="355.60" width="2.60" height="14.20" fill="#111" fill-opacity="0.765"/>
<rect x="316.50" y="355.60" width="4.50" height="14.20" fill="#111" fill-opacity="0.100"/>
<rect x="316.45" y="355.60" width="0.9" height="14.20" fill="#111" fill-opacity="0.549"/>
<rect x="318.62" y="355.60" width="0.9" height="14.20" fill="#111" fill-opacity="0.369"/>
<rect x="321.10" y="355.60" width="2.20" height="14.20" fill="#111" fill-opacity="0.510"/>
<rect x="324.80" y="355.60" width="2.20" height="14.20" fill="#111" fill-opacity="0.765"/>
<rect x="339.90" y="355.60" width="2.20" height="14.20" fill="#111" fill-opacity="0.680"/>
<rect x="342.70" y="355.60" width="5.60" height="14.20" fill="#111" fill-opacity="0.100"/>
<rect x="342.65" y="355.60" width="0.9" height="14.20" fill="#111" fill-opacity="0.452"/>
<rect x="344.39" y="355.60" width="0.9" height="14.20" fill="#111" fill-opacity="0.647"/>
<rect x="346.15" y="355.60" width="0.9" height="14.20" fill="#111" fill-opacity="0.383"/>
<rect x="349.00" y="355.60" width="4.20" height="14.20" fill="#111" fill-opacity="0.140"/>
<rect x="348.95" y="355.60" width="0.9" height="14.20" fill="#111" fill-opacity="0.679"/>
<rect x="350.50" y="355.60" width="0.9" height="14.20" fill="#111" fill-opacity="0.561"/>
<rect x="352.31" y="355.60" width="0.9" height="14.20" fill="#111" fill-opacity="0.765"/>
<rect x="353.30" y="355.60" width="2.70" height="14.20" fill="#111" fill-opacity="0.510"/>
<rect x="356.20" y="355.60" width="7.00" height="14.20" fill="#111" fill-opacity="0.180"/>
<rect x="356.15" y="355.60" width="0.9" height="14.20" fill="#111" fill-opacity="0.855"/>
<rect x="358.36" y="355.60" width="0.9" height="14.20" fill="#111" fill-opacity="0.814"/>
<rect x="360.56" y="355.60" width="0.9" height="14.20" fill="#111" fill-opacity="0.892"/>
<rect x="362.22" y="355.60" width="0.9" height="14.20" fill="#111" fill-opacity="0.953"/>
<rect x="364.40" y="355.60" width="3.20" height="14.20" fill="#111" fill-opacity="0.150"/>
<rect x="364.35" y="355.60" width="0.9" height="14.20" fill="#111" fill-opacity="0.987"/>
<rect x="366.38" y="355.60" width="0.9" height="14.20" fill="#111" fill-opacity="0.685"/>
<rect x="368.70" y="355.60" width="2.20" height="14.20" fill="#111" fill-opacity="0.510"/>
<rect x="374.00" y="355.60" width="0.80" height="14.20" fill="#111" fill-opacity="0.255"/>
<rect x="378.80" y="355.60" width="0.80" height="14.20" fill="#111" fill-opacity="0.255"/>
<rect x="288.00" y="369.80" width="91.50" height="3.80" fill="url(#cb)"/>
<polyline points="287.80,317.60 291.70,320.50 295.50,323.40 299.40,325.30 304.20,328.80 307.10,327.80 310.90,330.10 314.80,329.20 318.60,330.10 326.30,334.90 334.00,340.70 341.70,347.40 347.50,351.80 352.30,353.20 355.20,352.60 358.00,346.50 361.90,336.80 364.80,331.10 368.60,323.40 371.50,316.70 373.40,314.70 375.30,313.80 377.30,315.70 379.80,317.60" fill="none" stroke="#78ec78" stroke-width="2.2" stroke-linejoin="round" opacity="0.75"/>
<polyline points="287.80,317.60 291.70,320.50 295.50,323.40 299.40,325.30 304.20,328.80 307.10,327.80 310.90,330.10 314.80,329.20 318.60,330.10 326.30,334.90 334.00,340.70 341.70,347.40 347.50,351.80 352.30,353.20 355.20,352.60 358.00,346.50 361.90,336.80 364.80,331.10 368.60,323.40 371.50,316.70 373.40,314.70 375.30,313.80 377.30,315.70 379.80,317.60" fill="none" stroke="#40c440" stroke-width="0.9" stroke-linejoin="round"/>
<text x="336.00" y="299.40" font-size="5.6" text-anchor="middle" fill="#222" textLength="31.6" lengthAdjust="spacingAndGlyphs">MYC Targets</text>
<text x="335.40" y="305.50" font-size="5.6" text-anchor="middle" fill="#222" textLength="55.9" lengthAdjust="spacingAndGlyphs">(FDR: 0.00, NES: -1.74)</text>
<rect x="416.70" y="311.80" width="91.80" height="43.40" fill="none" stroke="#e2e2e2" stroke-width="0.6"/>
<rect x="416.70" y="355.20" width="91.80" height="14.60" fill="none" stroke="#dcdcdc" stroke-width="0.6"/>
<line x1="416.70" x2="508.50" y1="317.90" y2="317.90" stroke="#bcbcbc" stroke-width="0.7"/>
<line x1="416.70" x2="416.70" y1="311.80" y2="369.80" stroke="#cccccc" stroke-width="0.8"/>
<text class="t" x="412.80" y="315.20" font-size="4.2" text-anchor="end" fill="#444" textLength="6.0" lengthAdjust="spacingAndGlyphs">0.05</text>
<text class="t" x="412.80" y="319.30" font-size="4.2" text-anchor="end" fill="#444" textLength="6.0" lengthAdjust="spacingAndGlyphs">0.00</text>
<text class="t" x="412.80" y="323.40" font-size="4.2" text-anchor="end" fill="#444" textLength="6.3" lengthAdjust="spacingAndGlyphs">-0.05</text>
<text class="t" x="412.80" y="327.50" font-size="4.2" text-anchor="end" fill="#444" textLength="6.3" lengthAdjust="spacingAndGlyphs">-0.10</text>
<text class="t" x="412.80" y="331.60" font-size="4.2" text-anchor="end" fill="#444" textLength="6.3" lengthAdjust="spacingAndGlyphs">-0.15</text>
<text class="t" x="412.80" y="335.70" font-size="4.2" text-anchor="end" fill="#444" textLength="6.3" lengthAdjust="spacingAndGlyphs">-0.20</text>
<text class="t" x="412.80" y="339.80" font-size="4.2" text-anchor="end" fill="#444" textLength="6.3" lengthAdjust="spacingAndGlyphs">-0.25</text>
<text class="t" x="412.80" y="343.90" font-size="4.2" text-anchor="end" fill="#444" textLength="6.3" lengthAdjust="spacingAndGlyphs">-0.30</text>
<text class="t" x="412.80" y="348.00" font-size="4.2" text-anchor="end" fill="#444" textLength="6.3" lengthAdjust="spacingAndGlyphs">-0.35</text>
<text class="t" x="412.80" y="352.10" font-size="4.2" text-anchor="end" fill="#444" textLength="6.3" lengthAdjust="spacingAndGlyphs">-0.40</text>
<text class="t" x="400.60" y="331.90" font-size="4.6" text-anchor="middle" fill="#333" textLength="42.3" lengthAdjust="spacingAndGlyphs" transform="rotate(-90 400.60 331.90)">Enrichment score (ES)</text>
<rect x="421.40" y="355.60" width="2.20" height="14.20" fill="#111" fill-opacity="0.680"/>
<rect x="424.20" y="355.60" width="5.00" height="14.20" fill="#111" fill-opacity="0.090"/>
<rect x="424.15" y="355.60" width="0.9" height="14.20" fill="#111" fill-opacity="0.395"/>
<rect x="426.10" y="355.60" width="0.9" height="14.20" fill="#111" fill-opacity="0.499"/>
<rect x="427.78" y="355.60" width="0.9" height="14.20" fill="#111" fill-opacity="0.314"/>
<rect x="430.20" y="355.60" width="2.20" height="14.20" fill="#111" fill-opacity="0.510"/>
<rect x="432.10" y="355.60" width="3.50" height="14.20" fill="#111" fill-opacity="0.100"/>
<rect x="432.05" y="355.60" width="0.9" height="14.20" fill="#111" fill-opacity="0.477"/>
<rect x="433.89" y="355.60" width="0.9" height="14.20" fill="#111" fill-opacity="0.558"/>
<rect x="435.80" y="355.60" width="3.10" height="14.20" fill="#111" fill-opacity="0.160"/>
<rect x="435.75" y="355.60" width="0.9" height="14.20" fill="#111" fill-opacity="0.748"/>
<rect x="437.63" y="355.60" width="0.9" height="14.20" fill="#111" fill-opacity="0.720"/>
<rect x="439.50" y="355.60" width="2.60" height="14.20" fill="#111" fill-opacity="0.510"/>
<rect x="442.20" y="355.60" width="5.40" height="14.20" fill="#111" fill-opacity="0.100"/>
<rect x="442.15" y="355.60" width="0.9" height="14.20" fill="#111" fill-opacity="0.676"/>
<rect x="443.84" y="355.60" width="0.9" height="14.20" fill="#111" fill-opacity="0.534"/>
<rect x="445.79" y="355.60" width="0.9" height="14.20" fill="#111" fill-opacity="0.401"/>
<rect x="447.80" y="355.60" width="1.70" height="14.20" fill="#111" fill-opacity="0.510"/>
<rect x="450.50" y="355.60" width="2.70" height="14.20" fill="#111" fill-opacity="0.680"/>
<rect x="453.30" y="355.60" width="1.70" height="14.20" fill="#111" fill-opacity="0.510"/>
<rect x="457.00" y="355.60" width="0.80" height="14.20" fill="#111" fill-opacity="0.255"/>
<rect x="469.80" y="355.60" width="2.20" height="14.20" fill="#111" fill-opacity="0.510"/>
<rect x="472.20" y="355.60" width="2.20" height="14.20" fill="#111" fill-opacity="0.510"/>
<rect x="475.10" y="355.60" width="2.20" height="14.20" fill="#111" fill-opacity="0.510"/>
<rect x="477.90" y="355.60" width="2.30" height="14.20" fill="#111" fill-opacity="0.510"/>
<rect x="480.80" y="355.60" width="4.20" height="14.20" fill="#111" fill-opacity="0.180"/>
<rect x="480.75" y="355.60" width="0.9" height="14.20" fill="#111" fill-opacity="0.773"/>
<rect x="482.75" y="355.60" width="0.9" height="14.20" fill="#111" fill-opacity="0.762"/>
<rect x="484.70" y="355.60" width="7.50" height="14.20" fill="#111" fill-opacity="0.130"/>
<rect x="484.65" y="355.60" width="0.9" height="14.20" fill="#111" fill-opacity="0.834"/>
<rect x="486.17" y="355.60" width="0.9" height="14.20" fill="#111" fill-opacity="0.453"/>
<rect x="487.76" y="355.60" width="0.9" height="14.20" fill="#111" fill-opacity="0.723"/>
<rect x="489.36" y="355.60" width="0.9" height="14.20" fill="#111" fill-opacity="0.484"/>
<rect x="491.15" y="355.60" width="0.9" height="14.20" fill="#111" fill-opacity="0.800"/>
<rect x="492.40" y="355.60" width="1.70" height="14.20" fill="#111" fill-opacity="0.510"/>
<rect x="493.80" y="355.60" width="5.10" height="14.20" fill="#111" fill-opacity="0.160"/>
<rect x="493.75" y="355.60" width="0.9" height="14.20" fill="#111" fill-opacity="0.532"/>
<rect x="495.45" y="355.60" width="0.9" height="14.20" fill="#111" fill-opacity="0.813"/>
<rect x="497.06" y="355.60" width="0.9" height="14.20" fill="#111" fill-opacity="0.774"/>
<rect x="498.60" y="355.60" width="4.20" height="14.20" fill="#111" fill-opacity="0.100"/>
<rect x="498.55" y="355.60" width="0.9" height="14.20" fill="#111" fill-opacity="0.325"/>
<rect x="500.72" y="355.60" width="0.9" height="14.20" fill="#111" fill-opacity="0.368"/>
<rect x="502.50" y="355.60" width="2.70" height="14.20" fill="#111" fill-opacity="0.680"/>
<rect x="505.40" y="355.60" width="2.20" height="14.20" fill="#111" fill-opacity="0.510"/>
<rect x="416.70" y="369.80" width="91.50" height="3.80" fill="url(#cb)"/>
<polyline points="416.80,316.70 418.70,315.70 421.60,319.20 423.50,314.70 427.40,315.70 433.20,317.60 440.80,318.60 446.60,321.50 454.30,327.20 462.00,333.00 469.70,339.70 477.40,346.50 483.20,351.30 487.00,353.20 489.90,350.70 493.70,349.30 497.60,345.50 501.40,334.90 504.30,323.40 507.80,317.60" fill="none" stroke="#78ec78" stroke-width="2.2" stroke-linejoin="round" opacity="0.75"/>
<polyline points="416.80,316.70 418.70,315.70 421.60,319.20 423.50,314.70 427.40,315.70 433.20,317.60 440.80,318.60 446.60,321.50 454.30,327.20 462.00,333.00 469.70,339.70 477.40,346.50 483.20,351.30 487.00,353.20 489.90,350.70 493.70,349.30 497.60,345.50 501.40,334.90 504.30,323.40 507.80,317.60" fill="none" stroke="#40c440" stroke-width="0.9" stroke-linejoin="round"/>
<text x="464.20" y="299.40" font-size="5.6" text-anchor="middle" fill="#222" textLength="42.7" lengthAdjust="spacingAndGlyphs">G2-M Checkpoint</text>
<text x="464.90" y="305.50" font-size="5.6" text-anchor="middle" fill="#222" textLength="56.3" lengthAdjust="spacingAndGlyphs">(FDR: 0.01, NES: -1.61)</text>
<rect x="25.20" y="408.20" width="93.30" height="42.30" fill="none" stroke="#e2e2e2" stroke-width="0.6"/>
<rect x="25.20" y="450.50" width="93.30" height="14.50" fill="none" stroke="#dcdcdc" stroke-width="0.6"/>
<line x1="25.20" x2="118.50" y1="419.20" y2="419.20" stroke="#bcbcbc" stroke-width="0.7"/>
<line x1="25.20" x2="25.20" y1="408.20" y2="465.00" stroke="#cccccc" stroke-width="0.8"/>
<text class="t" x="21.40" y="413.50" font-size="4.2" text-anchor="end" fill="#444" textLength="4.2" lengthAdjust="spacingAndGlyphs">0.1</text>
<text class="t" x="21.40" y="420.60" font-size="4.2" text-anchor="end" fill="#444" textLength="4.2" lengthAdjust="spacingAndGlyphs">0.0</text>
<text class="t" x="21.40" y="427.70" font-size="4.2" text-anchor="end" fill="#444" textLength="4.4" lengthAdjust="spacingAndGlyphs">-0.1</text>
<text class="t" x="21.40" y="434.80" font-size="4.2" text-anchor="end" fill="#444" textLength="4.4" lengthAdjust="spacingAndGlyphs">-0.2</text>
<text class="t" x="21.40" y="441.90" font-size="4.2" text-anchor="end" fill="#444" textLength="4.4" lengthAdjust="spacingAndGlyphs">-0.3</text>
<text class="t" x="21.40" y="449.00" font-size="4.2" text-anchor="end" fill="#444" textLength="4.4" lengthAdjust="spacingAndGlyphs">-0.4</text>
<text class="t" x="11.10" y="429.30" font-size="4.6" text-anchor="middle" fill="#333" textLength="42.2" lengthAdjust="spacingAndGlyphs" transform="rotate(-90 11.10 429.30)">Enrichment score (ES)</text>
<rect x="27.30" y="450.90" width="4.00" height="14.10" fill="#111" fill-opacity="0.140"/>
<rect x="27.25" y="450.90" width="0.9" height="14.10" fill="#111" fill-opacity="0.841"/>
<rect x="28.76" y="450.90" width="0.9" height="14.10" fill="#111" fill-opacity="0.794"/>
<rect x="31.90" y="450.90" width="1.70" height="14.10" fill="#111" fill-opacity="0.510"/>
<rect x="33.80" y="450.90" width="4.50" height="14.10" fill="#111" fill-opacity="0.070"/>
<rect x="33.75" y="450.90" width="0.9" height="14.10" fill="#111" fill-opacity="0.429"/>
<rect x="35.52" y="450.90" width="0.9" height="14.10" fill="#111" fill-opacity="0.338"/>
<rect x="37.23" y="450.90" width="0.9" height="14.10" fill="#111" fill-opacity="0.430"/>
<rect x="39.80" y="450.90" width="1.70" height="14.10" fill="#111" fill-opacity="0.765"/>
<rect x="41.60" y="450.90" width="2.70" height="14.10" fill="#111" fill-opacity="0.510"/>
<rect x="45.80" y="450.90" width="1.70" height="14.10" fill="#111" fill-opacity="0.680"/>
<rect x="47.10" y="450.90" width="5.00" height="14.10" fill="#111" fill-opacity="0.100"/>
<rect x="47.05" y="450.90" width="0.9" height="14.10" fill="#111" fill-opacity="0.668"/>
<rect x="49.03" y="450.90" width="0.9" height="14.10" fill="#111" fill-opacity="0.554"/>
<rect x="51.13" y="450.90" width="0.9" height="14.10" fill="#111" fill-opacity="0.607"/>
<rect x="52.70" y="450.90" width="1.70" height="14.10" fill="#111" fill-opacity="0.510"/>
<rect x="55.50" y="450.90" width="0.80" height="14.10" fill="#111" fill-opacity="0.510"/>
<rect x="56.80" y="450.90" width="4.50" height="14.10" fill="#111" fill-opacity="0.100"/>
<rect x="56.75" y="450.90" width="0.9" height="14.10" fill="#111" fill-opacity="0.329"/>
<rect x="58.44" y="450.90" width="0.9" height="14.10" fill="#111" fill-opacity="0.612"/>
<rect x="61.50" y="450.90" width="2.10" height="14.10" fill="#111" fill-opacity="0.510"/>
<rect x="64.20" y="450.90" width="0.80" height="14.10" fill="#111" fill-opacity="0.510"/>
<rect x="67.00" y="450.90" width="3.10" height="14.10" fill="#111" fill-opacity="0.110"/>
<rect x="66.95" y="450.90" width="0.9" height="14.10" fill="#111" fill-opacity="0.585"/>
<rect x="68.55" y="450.90" width="0.9" height="14.10" fill="#111" fill-opacity="0.615"/>
<rect x="71.60" y="450.90" width="2.70" height="14.10" fill="#111" fill-opacity="0.425"/>
<rect x="76.90" y="450.90" width="3.70" height="14.10" fill="#111" fill-opacity="0.150"/>
<rect x="76.85" y="450.90" width="0.9" height="14.10" fill="#111" fill-opacity="0.517"/>
<rect x="78.87" y="450.90" width="0.9" height="14.10" fill="#111" fill-opacity="0.605"/>
<rect x="80.70" y="450.90" width="0.80" height="14.10" fill="#111" fill-opacity="0.510"/>
<rect x="83.10" y="450.90" width="2.80" height="14.10" fill="#111" fill-opacity="0.637"/>
<rect x="86.00" y="450.90" width="1.80" height="14.10" fill="#111" fill-opacity="0.510"/>
<rect x="89.40" y="450.90" width="2.20" height="14.10" fill="#111" fill-opacity="0.510"/>
<rect x="91.80" y="450.90" width="5.60" height="14.10" fill="#111" fill-opacity="0.100"/>
<rect x="91.75" y="450.90" width="0.9" height="14.10" fill="#111" fill-opacity="0.343"/>
<rect x="93.42" y="450.90" width="0.9" height="14.10" fill="#111" fill-opacity="0.336"/>
<rect x="95.03" y="450.90" width="0.9" height="14.10" fill="#111" fill-opacity="0.679"/>
<rect x="97.10" y="450.90" width="2.20" height="14.10" fill="#111" fill-opacity="0.637"/>
<rect x="99.50" y="450.90" width="5.60" height="14.10" fill="#111" fill-opacity="0.120"/>
<rect x="99.45" y="450.90" width="0.9" height="14.10" fill="#111" fill-opacity="0.572"/>
<rect x="101.15" y="450.90" width="0.9" height="14.10" fill="#111" fill-opacity="0.692"/>
<rect x="103.07" y="450.90" width="0.9" height="14.10" fill="#111" fill-opacity="0.423"/>
<rect x="107.70" y="450.90" width="2.20" height="14.10" fill="#111" fill-opacity="0.765"/>
<rect x="109.60" y="450.90" width="2.20" height="14.10" fill="#111" fill-opacity="0.510"/>
<rect x="112.90" y="450.90" width="4.70" height="14.10" fill="#111" fill-opacity="0.150"/>
<rect x="112.85" y="450.90" width="0.9" height="14.10" fill="#111" fill-opacity="0.990"/>
<rect x="114.46" y="450.90" width="0.9" height="14.10" fill="#111" fill-opacity="0.872"/>
<rect x="116.23" y="450.90" width="0.9" height="14.10" fill="#111" fill-opacity="0.574"/>
<rect x="25.20" y="465.20" width="92.30" height="3.50" fill="url(#cb)"/>
<polyline points="25.50,419.00 26.20,417.50 27.80,419.00 29.30,415.50 30.70,411.70 32.60,410.20 37.40,411.30 43.20,412.70 50.80,415.20 56.60,417.50 64.30,423.20 73.90,430.90 83.50,438.60 93.20,445.30 100.80,448.60 104.70,448.20 107.60,446.30 111.40,443.40 114.30,441.50 116.20,434.80 117.80,419.40" fill="none" stroke="#78ec78" stroke-width="2.2" stroke-linejoin="round" opacity="0.75"/>
<polyline points="25.50,419.00 26.20,417.50 27.80,419.00 29.30,415.50 30.70,411.70 32.60,410.20 37.40,411.30 43.20,412.70 50.80,415.20 56.60,417.50 64.30,423.20 73.90,430.90 83.50,438.60 93.20,445.30 100.80,448.60 104.70,448.20 107.60,446.30 111.40,443.40 114.30,441.50 116.20,434.80 117.80,419.40" fill="none" stroke="#40c440" stroke-width="0.9" stroke-linejoin="round"/>
<text x="73.85" y="395.40" font-size="5.6" text-anchor="middle" fill="#222" textLength="44.9" lengthAdjust="spacingAndGlyphs">Allograft Rejection</text>
<text x="74.00" y="401.20" font-size="5.6" text-anchor="middle" fill="#222" textLength="55.8" lengthAdjust="spacingAndGlyphs">(FDR: 0.02, NES: -1.52)</text>
<rect x="155.20" y="408.60" width="92.10" height="41.40" fill="none" stroke="#e2e2e2" stroke-width="0.6"/>
<rect x="155.20" y="450.00" width="92.10" height="15.50" fill="none" stroke="#dcdcdc" stroke-width="0.6"/>
<line x1="155.20" x2="247.30" y1="411.30" y2="411.30" stroke="#bcbcbc" stroke-width="0.7"/>
<line x1="155.20" x2="155.20" y1="408.60" y2="465.50" stroke="#cccccc" stroke-width="0.8"/>
<text class="t" x="151.20" y="412.70" font-size="4.2" text-anchor="end" fill="#444" textLength="6.0" lengthAdjust="spacingAndGlyphs">0.00</text>
<text class="t" x="151.20" y="417.27" font-size="4.2" text-anchor="end" fill="#444" textLength="6.3" lengthAdjust="spacingAndGlyphs">-0.05</text>
<text class="t" x="151.20" y="421.85" font-size="4.2" text-anchor="end" fill="#444" textLength="6.3" lengthAdjust="spacingAndGlyphs">-0.10</text>
<text class="t" x="151.20" y="426.43" font-size="4.2" text-anchor="end" fill="#444" textLength="6.3" lengthAdjust="spacingAndGlyphs">-0.15</text>
<text class="t" x="151.20" y="431.00" font-size="4.2" text-anchor="end" fill="#444" textLength="6.3" lengthAdjust="spacingAndGlyphs">-0.20</text>
<text class="t" x="151.20" y="435.57" font-size="4.2" text-anchor="end" fill="#444" textLength="6.3" lengthAdjust="spacingAndGlyphs">-0.25</text>
<text class="t" x="151.20" y="440.15" font-size="4.2" text-anchor="end" fill="#444" textLength="6.3" lengthAdjust="spacingAndGlyphs">-0.30</text>
<text class="t" x="151.20" y="444.72" font-size="4.2" text-anchor="end" fill="#444" textLength="6.3" lengthAdjust="spacingAndGlyphs">-0.35</text>
<text class="t" x="151.20" y="449.30" font-size="4.2" text-anchor="end" fill="#444" textLength="6.3" lengthAdjust="spacingAndGlyphs">-0.40</text>
<text class="t" x="138.60" y="429.30" font-size="4.6" text-anchor="middle" fill="#333" textLength="42.2" lengthAdjust="spacingAndGlyphs" transform="rotate(-90 138.60 429.30)">Enrichment score (ES)</text>
<rect x="157.70" y="450.40" width="1.70" height="15.10" fill="#111" fill-opacity="0.255"/>
<rect x="159.50" y="450.40" width="2.70" height="15.10" fill="#111" fill-opacity="0.680"/>
<rect x="163.20" y="450.40" width="1.70" height="15.10" fill="#111" fill-opacity="0.510"/>
<rect x="166.00" y="450.40" width="1.70" height="15.10" fill="#111" fill-opacity="0.510"/>
<rect x="167.80" y="450.40" width="11.50" height="15.10" fill="#111" fill-opacity="0.110"/>
<rect x="167.75" y="450.40" width="0.9" height="15.10" fill="#111" fill-opacity="0.416"/>
<rect x="169.25" y="450.40" width="0.9" height="15.10" fill="#111" fill-opacity="0.624"/>
<rect x="171.21" y="450.40" width="0.9" height="15.10" fill="#111" fill-opacity="0.420"/>
<rect x="173.33" y="450.40" width="0.9" height="15.10" fill="#111" fill-opacity="0.697"/>
<rect x="175.58" y="450.40" width="0.9" height="15.10" fill="#111" fill-opacity="0.395"/>
<rect x="177.82" y="450.40" width="0.9" height="15.10" fill="#111" fill-opacity="0.723"/>
<rect x="170.60" y="450.40" width="4.80" height="15.10" fill="#111" fill-opacity="0.060"/>
<rect x="170.55" y="450.40" width="0.9" height="15.10" fill="#111" fill-opacity="0.259"/>
<rect x="172.69" y="450.40" width="0.9" height="15.10" fill="#111" fill-opacity="0.290"/>
<rect x="174.28" y="450.40" width="0.9" height="15.10" fill="#111" fill-opacity="0.190"/>
<rect x="179.40" y="450.40" width="1.70" height="15.10" fill="#111" fill-opacity="0.510"/>
<rect x="181.70" y="450.40" width="1.70" height="15.10" fill="#111" fill-opacity="0.510"/>
<rect x="185.40" y="450.40" width="2.20" height="15.10" fill="#111" fill-opacity="0.680"/>
<rect x="188.60" y="450.40" width="2.20" height="15.10" fill="#111" fill-opacity="0.680"/>
<rect x="192.80" y="450.40" width="1.70" height="15.10" fill="#111" fill-opacity="0.510"/>
<rect x="201.10" y="450.40" width="0.80" height="15.10" fill="#111" fill-opacity="0.255"/>
<rect x="207.30" y="450.40" width="2.80" height="15.10" fill="#111" fill-opacity="0.680"/>
<rect x="209.70" y="450.40" width="5.60" height="15.10" fill="#111" fill-opacity="0.100"/>
<rect x="209.65" y="450.40" width="0.9" height="15.10" fill="#111" fill-opacity="0.459"/>
<rect x="211.41" y="450.40" width="0.9" height="15.10" fill="#111" fill-opacity="0.515"/>
<rect x="212.95" y="450.40" width="0.9" height="15.10" fill="#111" fill-opacity="0.575"/>
<rect x="216.50" y="450.40" width="4.10" height="15.10" fill="#111" fill-opacity="0.160"/>
<rect x="216.45" y="450.40" width="0.9" height="15.10" fill="#111" fill-opacity="0.613"/>
<rect x="218.57" y="450.40" width="0.9" height="15.10" fill="#111" fill-opacity="0.730"/>
<rect x="220.30" y="450.40" width="9.90" height="15.10" fill="#111" fill-opacity="0.140"/>
<rect x="220.25" y="450.40" width="0.9" height="15.10" fill="#111" fill-opacity="0.794"/>
<rect x="222.11" y="450.40" width="0.9" height="15.10" fill="#111" fill-opacity="0.790"/>
<rect x="224.07" y="450.40" width="0.9" height="15.10" fill="#111" fill-opacity="0.702"/>
<rect x="226.23" y="450.40" width="0.9" height="15.10" fill="#111" fill-opacity="0.797"/>
<rect x="227.78" y="450.40" width="0.9" height="15.10" fill="#111" fill-opacity="0.704"/>
<rect x="229.90" y="450.40" width="3.20" height="15.10" fill="#111" fill-opacity="0.160"/>
<rect x="229.85" y="450.40" width="0.9" height="15.10" fill="#111" fill-opacity="0.722"/>
<rect x="232.07" y="450.40" width="0.9" height="15.10" fill="#111" fill-opacity="0.538"/>
<rect x="234.30" y="450.40" width="2.20" height="15.10" fill="#111" fill-opacity="0.765"/>
<rect x="236.20" y="450.40" width="6.50" height="15.10" fill="#111" fill-opacity="0.120"/>
<rect x="236.15" y="450.40" width="0.9" height="15.10" fill="#111" fill-opacity="0.387"/>
<rect x="237.79" y="450.40" width="0.9" height="15.10" fill="#111" fill-opacity="0.729"/>
<rect x="239.89" y="450.40" width="0.9" height="15.10" fill="#111" fill-opacity="0.800"/>
<rect x="244.80" y="450.40" width="0.80" height="15.10" fill="#111" fill-opacity="0.510"/>
<rect x="155.20" y="465.80" width="91.30" height="3.20" fill="url(#cb)"/>
<polyline points="155.40,411.30 156.70,413.20 158.70,414.00 160.60,411.30 163.50,410.70 168.30,414.00 171.20,412.10 176.90,410.70 180.80,411.70 188.50,418.40 198.10,427.10 207.70,436.70 215.40,444.40 221.20,448.60 226.00,448.20 230.80,443.40 234.60,438.60 238.50,429.00 242.30,415.50 244.20,413.60 246.20,410.70" fill="none" stroke="#78ec78" stroke-width="2.2" stroke-linejoin="round" opacity="0.75"/>
<polyline points="155.40,411.30 156.70,413.20 158.70,414.00 160.60,411.30 163.50,410.70 168.30,414.00 171.20,412.10 176.90,410.70 180.80,411.70 188.50,418.40 198.10,427.10 207.70,436.70 215.40,444.40 221.20,448.60 226.00,448.20 230.80,443.40 234.60,438.60 238.50,429.00 242.30,415.50 244.20,413.60 246.20,410.70" fill="none" stroke="#40c440" stroke-width="0.9" stroke-linejoin="round"/>
<text x="203.00" y="395.40" font-size="5.6" text-anchor="middle" fill="#222" textLength="28.3" lengthAdjust="spacingAndGlyphs">E2F Targets</text>
<text x="203.20" y="401.50" font-size="5.6" text-anchor="middle" fill="#222" textLength="56.1" lengthAdjust="spacingAndGlyphs">(FDR: 0.02, NES: -1.51)</text>
<rect x="282.30" y="406.80" width="98.70" height="43.90" fill="none" stroke="#e2e2e2" stroke-width="0.6"/>
<rect x="282.30" y="450.70" width="98.70" height="14.80" fill="none" stroke="#dcdcdc" stroke-width="0.6"/>
<line x1="282.30" x2="381.00" y1="420.80" y2="420.80" stroke="#bcbcbc" stroke-width="0.7"/>
<line x1="282.30" x2="282.30" y1="406.80" y2="465.50" stroke="#cccccc" stroke-width="0.8"/>
<text class="t" x="278.20" y="409.20" font-size="4.2" text-anchor="end" fill="#444" textLength="4.8" lengthAdjust="spacingAndGlyphs">0.2</text>
<text class="t" x="278.20" y="415.70" font-size="4.2" text-anchor="end" fill="#444" textLength="4.8" lengthAdjust="spacingAndGlyphs">0.1</text>
<text class="t" x="278.20" y="422.20" font-size="4.2" text-anchor="end" fill="#444" textLength="4.8" lengthAdjust="spacingAndGlyphs">0.0</text>
<text class="t" x="278.20" y="428.70" font-size="4.2" text-anchor="end" fill="#444" textLength="5.1" lengthAdjust="spacingAndGlyphs">-0.1</text>
<text class="t" x="278.20" y="435.20" font-size="4.2" text-anchor="end" fill="#444" textLength="5.1" lengthAdjust="spacingAndGlyphs">-0.2</text>
<text class="t" x="278.20" y="441.70" font-size="4.2" text-anchor="end" fill="#444" textLength="5.1" lengthAdjust="spacingAndGlyphs">-0.3</text>
<text class="t" x="278.20" y="448.20" font-size="4.2" text-anchor="end" fill="#444" textLength="5.1" lengthAdjust="spacingAndGlyphs">-0.4</text>
<text class="t" x="267.20" y="427.70" font-size="4.6" text-anchor="middle" fill="#333" textLength="41.5" lengthAdjust="spacingAndGlyphs" transform="rotate(-90 267.20 427.70)">Enrichment score (ES)</text>
<rect x="283.00" y="451.10" width="5.10" height="14.40" fill="#111" fill-opacity="0.100"/>
<rect x="282.95" y="451.10" width="0.9" height="14.40" fill="#111" fill-opacity="0.419"/>
<rect x="284.52" y="451.10" width="0.9" height="14.40" fill="#111" fill-opacity="0.613"/>
<rect x="286.19" y="451.10" width="0.9" height="14.40" fill="#111" fill-opacity="0.484"/>
<rect x="292.10" y="451.10" width="2.20" height="14.40" fill="#111" fill-opacity="0.510"/>
<rect x="294.50" y="451.10" width="0.80" height="14.40" fill="#111" fill-opacity="0.510"/>
<rect x="298.80" y="451.10" width="2.30" height="14.40" fill="#111" fill-opacity="0.680"/>
<rect x="301.20" y="451.10" width="2.30" height="14.40" fill="#111" fill-opacity="0.510"/>
<rect x="305.60" y="451.10" width="3.20" height="14.40" fill="#111" fill-opacity="0.130"/>
<rect x="305.55" y="451.10" width="0.9" height="14.40" fill="#111" fill-opacity="0.450"/>
<rect x="307.30" y="451.10" width="0.9" height="14.40" fill="#111" fill-opacity="0.758"/>
<rect x="309.40" y="451.10" width="1.80" height="14.40" fill="#111" fill-opacity="0.510"/>
<rect x="312.80" y="451.10" width="2.20" height="14.40" fill="#111" fill-opacity="0.510"/>
<rect x="318.10" y="451.10" width="3.60" height="14.40" fill="#111" fill-opacity="0.130"/>
<rect x="318.05" y="451.10" width="0.9" height="14.40" fill="#111" fill-opacity="0.556"/>
<rect x="319.97" y="451.10" width="0.9" height="14.40" fill="#111" fill-opacity="0.884"/>
<rect x="322.40" y="451.10" width="2.20" height="14.40" fill="#111" fill-opacity="0.765"/>
<rect x="326.70" y="451.10" width="2.70" height="14.40" fill="#111" fill-opacity="0.510"/>
<rect x="329.60" y="451.10" width="2.40" height="14.40" fill="#111" fill-opacity="0.383"/>
<rect x="334.30" y="451.10" width="2.30" height="14.40" fill="#111" fill-opacity="0.510"/>
<rect x="338.40" y="451.10" width="2.90" height="14.40" fill="#111" fill-opacity="0.510"/>
<rect x="344.70" y="451.10" width="4.90" height="14.40" fill="#111" fill-opacity="0.130"/>
<rect x="344.65" y="451.10" width="0.9" height="14.40" fill="#111" fill-opacity="0.520"/>
<rect x="346.23" y="451.10" width="0.9" height="14.40" fill="#111" fill-opacity="0.568"/>
<rect x="347.82" y="451.10" width="0.9" height="14.40" fill="#111" fill-opacity="0.442"/>
<rect x="349.80" y="451.10" width="3.40" height="14.40" fill="#111" fill-opacity="0.090"/>
<rect x="349.75" y="451.10" width="0.9" height="14.40" fill="#111" fill-opacity="0.535"/>
<rect x="351.80" y="451.10" width="0.9" height="14.40" fill="#111" fill-opacity="0.448"/>
<rect x="355.60" y="451.10" width="2.80" height="14.40" fill="#111" fill-opacity="0.255"/>
<rect x="361.80" y="451.10" width="2.30" height="14.40" fill="#111" fill-opacity="0.425"/>
<rect x="365.40" y="451.10" width="2.90" height="14.40" fill="#111" fill-opacity="0.680"/>
<rect x="370.10" y="451.10" width="3.90" height="14.40" fill="#111" fill-opacity="0.130"/>
<rect x="370.05" y="451.10" width="0.9" height="14.40" fill="#111" fill-opacity="0.458"/>
<rect x="371.68" y="451.10" width="0.9" height="14.40" fill="#111" fill-opacity="0.426"/>
<rect x="374.30" y="451.10" width="2.30" height="14.40" fill="#111" fill-opacity="0.510"/>
<rect x="377.40" y="451.10" width="2.30" height="14.40" fill="#111" fill-opacity="0.765"/>
<rect x="282.30" y="465.80" width="97.70" height="3.60" fill="url(#cb)"/>
<polyline points="282.10,420.80 282.50,417.30 284.50,417.90 286.20,414.20 288.20,409.70 292.30,411.80 295.30,411.20 300.40,413.80 306.50,416.30 314.70,420.30 329.00,428.50 343.20,436.70 355.50,443.80 363.60,448.50 366.10,448.90 368.70,445.80 371.80,443.80 374.80,438.70 377.90,436.70 378.90,436.70 379.90,420.30" fill="none" stroke="#78ec78" stroke-width="2.2" stroke-linejoin="round" opacity="0.75"/>
<polyline points="282.10,420.80 282.50,417.30 284.50,417.90 286.20,414.20 288.20,409.70 292.30,411.80 295.30,411.20 300.40,413.80 306.50,416.30 314.70,420.30 329.00,428.50 343.20,436.70 355.50,443.80 363.60,448.50 366.10,448.90 368.70,445.80 371.80,443.80 374.80,438.70 377.90,436.70 378.90,436.70 379.90,420.30" fill="none" stroke="#40c440" stroke-width="0.9" stroke-linejoin="round"/>
<text x="333.70" y="394.90" font-size="5.6" text-anchor="middle" fill="#222" textLength="68.8" lengthAdjust="spacingAndGlyphs">IL-6 – JAK – STAT3 Signaling</text>
<text x="333.50" y="401.40" font-size="5.6" text-anchor="middle" fill="#222" textLength="56" lengthAdjust="spacingAndGlyphs">(FDR: 0.04, NES: -1.48)</text>
<rect x="25.5" y="370.3" width="32" height="0.7" fill="#e06a6a" opacity="0.8"/>
</g>
<rect x="0" y="0" width="520" height="477" fill="none" stroke="#000" stroke-width="3"/>
</svg>
</body></html>
